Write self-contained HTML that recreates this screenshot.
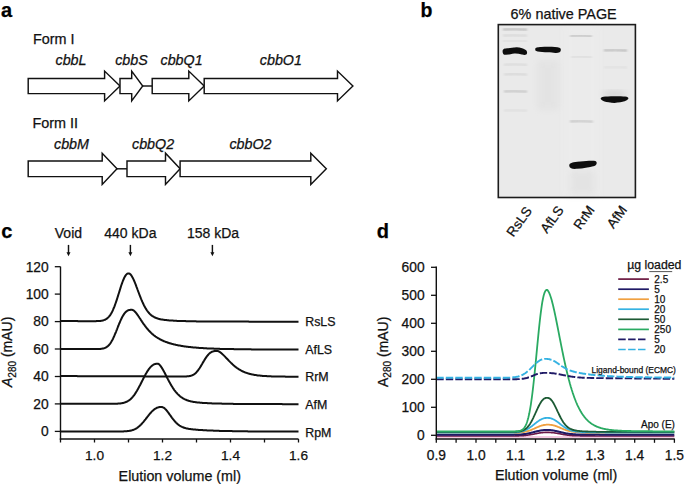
<!DOCTYPE html>
<html><head><meta charset="utf-8"><style>
html,body{margin:0;padding:0;background:#fff;}
svg{display:block;}
text{stroke:#111;stroke-width:0.25px;paint-order:stroke;}
</style></head><body>
<svg width="685" height="484" viewBox="0 0 685 484">
<defs>
<filter id="bl1" x="-20%" y="-50%" width="140%" height="200%"><feGaussianBlur stdDeviation="0.7"/></filter>
<filter id="bl06" x="-20%" y="-50%" width="140%" height="200%"><feGaussianBlur stdDeviation="0.5"/></filter>
<filter id="bl09" x="-20%" y="-100%" width="140%" height="300%"><feGaussianBlur stdDeviation="0.9"/></filter>
<filter id="bl08" x="-20%" y="-50%" width="140%" height="200%"><feGaussianBlur stdDeviation="0.8"/></filter>
<filter id="bl3" x="-20%" y="-20%" width="140%" height="140%"><feGaussianBlur stdDeviation="3"/></filter>
</defs>
<text x="1" y="17.4" font-family="Liberation Sans, sans-serif" font-weight="bold" font-size="20">a</text>
<text x="33" y="44.3" font-family="Liberation Sans, sans-serif" font-size="14.4" fill="#111">Form I</text>
<polygon points="28.2,78.4 104.6,78.4 104.6,71.1 120.0,86.0 104.6,100.9 104.6,93.6 28.2,93.6" fill="#fff" stroke="#111" stroke-width="1.45" stroke-linejoin="miter"/>
<polygon points="120.0,78.4 131.7,78.4 131.7,71.1 142.7,86.0 131.7,100.9 131.7,93.6 120.0,93.6" fill="#fff" stroke="#111" stroke-width="1.45" stroke-linejoin="miter"/>
<line x1="142.7" y1="86.0" x2="152.2" y2="86.0" stroke="#111" stroke-width="1.45"/>
<polygon points="152.2,78.4 188.8,78.4 188.8,71.1 204.2,86.0 188.8,100.9 188.8,93.6 152.2,93.6" fill="#fff" stroke="#111" stroke-width="1.45" stroke-linejoin="miter"/>
<polygon points="204.2,78.4 337.5,78.4 337.5,71.1 352.9,86.0 337.5,100.9 337.5,93.6 204.2,93.6" fill="#fff" stroke="#111" stroke-width="1.45" stroke-linejoin="miter"/>
<text x="55.5" y="64.9" font-family="Liberation Sans, sans-serif" font-style="italic" font-size="14.3" fill="#111">cbbL</text>
<text x="115.2" y="64.9" font-family="Liberation Sans, sans-serif" font-style="italic" font-size="14.3" fill="#111">cbbS</text>
<text x="160.5" y="64.9" font-family="Liberation Sans, sans-serif" font-style="italic" font-size="14.3" fill="#111">cbbQ1</text>
<text x="259.8" y="64.9" font-family="Liberation Sans, sans-serif" font-style="italic" font-size="14.3" fill="#111">cbbO1</text>
<text x="32.4" y="128.2" font-family="Liberation Sans, sans-serif" font-size="14.4" fill="#111">Form II</text>
<polygon points="28.2,161.0 102.2,161.0 102.2,153.2 117.0,168.8 102.2,184.4 102.2,176.6 28.2,176.6" fill="#fff" stroke="#111" stroke-width="1.45" stroke-linejoin="miter"/>
<line x1="117" y1="168.8" x2="127" y2="168.8" stroke="#111" stroke-width="1.45"/>
<polygon points="127.0,161.0 165.5,161.0 165.5,153.2 180.1,168.8 165.5,184.4 165.5,176.6 127.0,176.6" fill="#fff" stroke="#111" stroke-width="1.45" stroke-linejoin="miter"/>
<polygon points="180.1,161.0 310.8,161.0 310.8,153.2 326.3,168.8 310.8,184.4 310.8,176.6 180.1,176.6" fill="#fff" stroke="#111" stroke-width="1.45" stroke-linejoin="miter"/>
<text x="54.0" y="148.8" font-family="Liberation Sans, sans-serif" font-style="italic" font-size="14.3" fill="#111">cbbM</text>
<text x="132.0" y="148.8" font-family="Liberation Sans, sans-serif" font-style="italic" font-size="14.3" fill="#111">cbbQ2</text>
<text x="229.4" y="148.8" font-family="Liberation Sans, sans-serif" font-style="italic" font-size="14.3" fill="#111">cbbO2</text>
<text x="420.6" y="17.3" font-family="Liberation Sans, sans-serif" font-weight="bold" font-size="19.5">b</text>
<text x="510.6" y="18.8" font-family="Liberation Sans, sans-serif" font-size="14.4" fill="#111">6% native PAGE</text>
<g><rect x="498.3" y="24.6" width="137.1" height="172.9" fill="#eaeaea"/><rect x="565" y="26" width="33" height="170" fill="#ececec" opacity="0.9" filter="url(#bl3)"/><rect x="537" y="60" width="22" height="50" fill="#d8d8d8" opacity="0.35" filter="url(#bl3)"/><rect x="570" y="170" width="25" height="25" fill="#d8d8d8" opacity="0.4" filter="url(#bl3)"/><path d="M503,29.4 Q515.0,28.599999999999998 527,29.7" fill="none" stroke="#444" stroke-width="1.0" opacity="0.6" filter="url(#bl09)"/><path d="M503,35.5 Q515.0,34.7 527,35.8" fill="none" stroke="#444" stroke-width="2" opacity="0.12" filter="url(#bl09)"/><path d="M503,41 Q515.0,40.2 527,41.3" fill="none" stroke="#444" stroke-width="2" opacity="0.08" filter="url(#bl09)"/><path d="M504,64.8 Q515.5,64.0 527,65.1" fill="none" stroke="#444" stroke-width="1.8" opacity="0.12" filter="url(#bl09)"/><path d="M504,74.3 Q515.5,73.5 527,74.6" fill="none" stroke="#444" stroke-width="1.8" opacity="0.14" filter="url(#bl09)"/><path d="M504,91.4 Q515.5,90.60000000000001 527,91.7" fill="none" stroke="#444" stroke-width="1.8" opacity="0.28" filter="url(#bl09)"/><path d="M504,110.5 Q515.5,109.7 527,110.8" fill="none" stroke="#444" stroke-width="2" opacity="0.08" filter="url(#bl09)"/><path d="M570,36.0 Q581.0,35.2 592,36.3" fill="none" stroke="#444" stroke-width="1.0" opacity="0.55" filter="url(#bl09)"/><path d="M571,57 Q581.5,56.2 592,57.3" fill="none" stroke="#444" stroke-width="1.6" opacity="0.12" filter="url(#bl09)"/><path d="M570,121.4 Q581.5,120.60000000000001 593,121.7" fill="none" stroke="#444" stroke-width="1.6" opacity="0.3" filter="url(#bl09)"/><path d="M604,50.3 Q615.5,49.5 627,50.599999999999994" fill="none" stroke="#444" stroke-width="1.0" opacity="0.6" filter="url(#bl09)"/><path d="M604,67.2 Q615.5,66.4 627,67.5" fill="none" stroke="#444" stroke-width="1.8" opacity="0.07" filter="url(#bl09)"/><ellipse cx="614.5" cy="94" rx="12" ry="3.5" fill="#777" opacity="0.18" filter="url(#bl3)"/><path d="M502.6,51.2 C502.6,48.6 505,48.4 508,48.2 C511,48 513,47.3 516.5,47.2 C520,47.1 522.5,48.3 524.5,49.2 C526.6,50.2 527.1,51.3 527.1,52.8 C527.1,55.2 524.5,55.4 522,54.6 C519.5,53.8 517,53.3 514.5,53.4 C512,53.5 509,54.7 506,54.8 C503.4,54.9 502.6,53.8 502.6,51.2 Z" fill="#101010" filter="url(#bl06)"/><path d="M535.2,49.3 C535.2,47.4 538,47.4 541,47.1 C545,46.5 551,46.5 555,47 C559,47.4 560.9,47.8 560.9,49.8 C560.9,52.2 559,52.8 556,52.9 C553,53 551,52.2 548,52.2 C544,52.2 540,52 537.5,51.5 C535.7,51.1 535.2,50.6 535.2,49.3 Z" fill="#101010" filter="url(#bl06)"/><path d="M569.2,165.3 C569.2,162.6 573,162.1 580,161.4 C587,160.7 593,160.3 595.4,161 C597.4,161.8 597.2,164.9 594.4,165.9 C589,167.3 583,168.3 577,168.8 C572,169.2 569.2,168.3 569.2,165.3 Z" fill="#101010" filter="url(#bl06)"/><path d="M600.7,98.6 C600.7,96.7 604,96.3 614.5,96.2 C624.5,96.2 628.4,96.4 628.4,98.3 C628.4,100.6 623,102.3 614.5,102.9 C606,102.7 600.7,100.9 600.7,98.6 Z" fill="#101010" filter="url(#bl06)"/></g>
<rect x="498.3" y="24.6" width="137.1" height="172.9" fill="none" stroke="#1c1c1c" stroke-width="1.6"/>
<text x="532.6" y="211" font-family="Liberation Sans, sans-serif" font-size="13.5" fill="#111" text-anchor="end" transform="rotate(-54 532.6 211)">RsLS</text>
<text x="564.3" y="210.3" font-family="Liberation Sans, sans-serif" font-size="13.5" fill="#111" text-anchor="end" transform="rotate(-54 564.3 210.3)">AfLS</text>
<text x="595.2" y="209.8" font-family="Liberation Sans, sans-serif" font-size="13.5" fill="#111" text-anchor="end" transform="rotate(-54 595.2 209.8)">RrM</text>
<text x="627.6" y="209.8" font-family="Liberation Sans, sans-serif" font-size="13.5" fill="#111" text-anchor="end" transform="rotate(-54 627.6 209.8)">AfM</text>
<text x="1.2" y="237.5" font-family="Liberation Sans, sans-serif" font-weight="bold" font-size="20">c</text>
<text x="54.8" y="237.9" font-family="Liberation Sans, sans-serif" font-size="14" fill="#111">Void</text>
<text x="104.3" y="237.9" font-family="Liberation Sans, sans-serif" font-size="14" fill="#111">440 kDa</text>
<text x="187.0" y="237.9" font-family="Liberation Sans, sans-serif" font-size="14" fill="#111">158 kDa</text>
<line x1="68.5" y1="244.9" x2="68.5" y2="253" stroke="#111" stroke-width="1.45"/>
<path d="M66.5,252.2 L70.5,252.2 L68.5,256.2 Z" fill="#111"/>
<line x1="130.4" y1="244.9" x2="130.4" y2="253" stroke="#111" stroke-width="1.45"/>
<path d="M128.4,252.2 L132.4,252.2 L130.4,256.2 Z" fill="#111"/>
<line x1="212.4" y1="244.9" x2="212.4" y2="253" stroke="#111" stroke-width="1.45"/>
<path d="M210.4,252.2 L214.4,252.2 L212.4,256.2 Z" fill="#111"/>
<text x="48.7" y="436.2" font-family="Liberation Sans, sans-serif" font-size="13.8" fill="#111" text-anchor="end">0</text>
<text x="48.7" y="408.8" font-family="Liberation Sans, sans-serif" font-size="13.8" fill="#111" text-anchor="end">20</text>
<text x="48.7" y="381.3" font-family="Liberation Sans, sans-serif" font-size="13.8" fill="#111" text-anchor="end">40</text>
<text x="48.7" y="353.8" font-family="Liberation Sans, sans-serif" font-size="13.8" fill="#111" text-anchor="end">60</text>
<text x="48.7" y="326.4" font-family="Liberation Sans, sans-serif" font-size="13.8" fill="#111" text-anchor="end">80</text>
<text x="48.7" y="298.9" font-family="Liberation Sans, sans-serif" font-size="13.8" fill="#111" text-anchor="end">100</text>
<text x="48.7" y="271.5" font-family="Liberation Sans, sans-serif" font-size="13.8" fill="#111" text-anchor="end">120</text>
<text x="94.5" y="459.9" font-family="Liberation Sans, sans-serif" font-size="13.7" fill="#111" text-anchor="middle">1.0</text>
<text x="162.5" y="459.9" font-family="Liberation Sans, sans-serif" font-size="13.7" fill="#111" text-anchor="middle">1.2</text>
<text x="230.5" y="459.9" font-family="Liberation Sans, sans-serif" font-size="13.7" fill="#111" text-anchor="middle">1.4</text>
<text x="298.5" y="459.9" font-family="Liberation Sans, sans-serif" font-size="13.7" fill="#111" text-anchor="middle">1.6</text>
<line x1="60.5" y1="266.6" x2="60.5" y2="439.6" stroke="#111" stroke-width="1.4"/><line x1="59.8" y1="439" x2="298.5" y2="439" stroke="#111" stroke-width="1.4"/><line x1="54.8" y1="431.4" x2="60.5" y2="431.4" stroke="#111" stroke-width="1.3"/><line x1="54.8" y1="403.9" x2="60.5" y2="403.9" stroke="#111" stroke-width="1.3"/><line x1="54.8" y1="376.5" x2="60.5" y2="376.5" stroke="#111" stroke-width="1.3"/><line x1="54.8" y1="349.0" x2="60.5" y2="349.0" stroke="#111" stroke-width="1.3"/><line x1="54.8" y1="321.6" x2="60.5" y2="321.6" stroke="#111" stroke-width="1.3"/><line x1="54.8" y1="294.1" x2="60.5" y2="294.1" stroke="#111" stroke-width="1.3"/><line x1="54.8" y1="266.7" x2="60.5" y2="266.7" stroke="#111" stroke-width="1.3"/><line x1="60.5" y1="439" x2="60.5" y2="442.5" stroke="#111" stroke-width="1.3"/><line x1="94.5" y1="439" x2="94.5" y2="442.5" stroke="#111" stroke-width="1.3"/><line x1="128.5" y1="439" x2="128.5" y2="442.5" stroke="#111" stroke-width="1.3"/><line x1="162.5" y1="439" x2="162.5" y2="442.5" stroke="#111" stroke-width="1.3"/><line x1="196.5" y1="439" x2="196.5" y2="442.5" stroke="#111" stroke-width="1.3"/><line x1="230.5" y1="439" x2="230.5" y2="442.5" stroke="#111" stroke-width="1.3"/><line x1="264.5" y1="439" x2="264.5" y2="442.5" stroke="#111" stroke-width="1.3"/><line x1="298.5" y1="439" x2="298.5" y2="442.5" stroke="#111" stroke-width="1.3"/>
<text x="118.6" y="480.7" font-family="Liberation Sans, sans-serif" font-size="14.3" fill="#111">Elution volume (ml)</text>
<text transform="translate(12.4,387) rotate(-90)" font-family="Liberation Sans, sans-serif" font-size="14" fill="#111"><tspan font-style="italic">A</tspan><tspan font-size="10" dy="3.5">280</tspan><tspan dy="-3.5"> (mAU)</tspan></text>
<polyline points="60.5,321.1 61.0,321.1 61.5,321.1 62.0,321.1 62.5,321.1 63.0,321.1 63.5,321.1 64.0,321.1 64.5,321.1 65.0,321.1 65.5,321.1 66.0,321.1 66.5,321.1 67.0,321.1 67.5,321.1 68.0,321.1 68.5,321.1 69.0,321.1 69.5,321.1 70.0,321.1 70.5,321.1 71.0,321.1 71.5,321.1 72.0,321.1 72.5,321.1 73.0,321.1 73.5,321.1 74.0,321.1 74.5,321.1 75.0,321.1 75.5,321.1 76.0,321.1 76.5,321.1 77.0,321.1 77.5,321.1 78.0,321.2 78.5,321.2 79.0,321.2 79.5,321.2 80.0,321.2 80.5,321.2 81.0,321.2 81.5,321.2 82.0,321.2 82.5,321.2 83.0,321.2 83.5,321.2 84.0,321.2 84.5,321.2 85.0,321.2 85.5,321.2 86.0,321.2 86.5,321.2 87.0,321.2 87.5,321.2 88.0,321.2 88.5,321.2 89.0,321.2 89.5,321.2 90.0,321.2 90.5,321.2 91.0,321.2 91.5,321.2 92.0,321.2 92.5,321.2 93.0,321.2 93.5,321.2 94.0,321.2 94.5,321.2 95.0,321.2 95.5,321.2 96.0,321.2 96.5,321.1 97.0,321.1 97.5,321.1 98.0,321.1 98.5,321.1 99.0,321.0 99.5,321.0 100.0,320.9 100.5,320.9 101.0,320.8 101.5,320.8 102.0,320.7 102.5,320.6 103.0,320.4 103.5,320.3 104.0,320.1 104.5,319.9 105.0,319.7 105.5,319.5 106.0,319.2 106.5,318.9 107.0,318.5 107.5,318.1 108.0,317.6 108.5,317.1 109.0,316.6 109.5,316.0 110.0,315.3 110.5,314.6 111.0,313.8 111.5,312.9 112.0,312.0 112.5,311.0 113.0,309.9 113.5,308.7 114.0,307.5 114.5,306.3 115.0,304.9 115.5,303.5 116.0,302.1 116.5,300.6 117.0,299.1 117.5,297.5 118.0,295.9 118.5,294.3 119.0,292.7 119.5,291.1 120.0,289.5 120.5,287.9 121.0,286.3 121.5,284.8 122.0,283.4 122.5,282.0 123.0,280.7 123.5,279.5 124.0,278.3 124.5,277.3 125.0,276.4 125.5,275.6 126.0,274.9 126.5,274.4 127.0,273.9 127.5,273.6 128.0,273.4 128.5,273.4 129.0,273.4 129.5,273.6 130.0,274.0 130.5,274.4 131.0,275.0 131.5,275.7 132.0,276.5 132.5,277.4 133.0,278.3 133.5,279.4 134.0,280.5 134.5,281.7 135.0,282.9 135.5,284.1 136.0,285.4 136.5,286.8 137.0,288.1 137.5,289.5 138.0,290.8 138.5,292.2 139.0,293.5 139.5,294.8 140.0,296.1 140.5,297.4 141.0,298.7 141.5,299.9 142.0,301.0 142.5,302.2 143.0,303.3 143.5,304.3 144.0,305.4 144.5,306.3 145.0,307.2 145.5,308.1 146.0,308.9 146.5,309.7 147.0,310.5 147.5,311.2 148.0,311.8 148.5,312.4 149.0,313.0 149.5,313.6 150.0,314.1 150.5,314.5 151.0,315.0 151.5,315.4 152.0,315.8 152.5,316.1 153.0,316.4 153.5,316.7 154.0,317.0 154.5,317.3 155.0,317.5 155.5,317.7 156.0,318.0 156.5,318.1 157.0,318.3 157.5,318.5 158.0,318.6 158.5,318.8 159.0,318.9 159.5,319.0 160.0,319.2 160.5,319.3 161.0,319.4 161.5,319.5 162.0,319.5 162.5,319.6 163.0,319.7 163.5,319.8 164.0,319.8 164.5,319.9 165.0,320.0 165.5,320.0 166.0,320.1 166.5,320.1 167.0,320.2 167.5,320.2 168.0,320.3 168.5,320.3 169.0,320.4 169.5,320.4 170.0,320.4 170.5,320.5 171.0,320.5 171.5,320.5 172.0,320.6 172.5,320.6 173.0,320.6 173.5,320.7 174.0,320.7 174.5,320.7 175.0,320.8 175.5,320.8 176.0,320.8 176.5,320.8 177.0,320.9 177.5,320.9 178.0,320.9 178.5,320.9 179.0,320.9 179.5,321.0 180.0,321.0 180.5,321.0 181.0,321.0 181.5,321.0 182.0,321.0 182.5,321.1 183.0,321.1 183.5,321.1 184.0,321.1 184.5,321.1 185.0,321.1 185.5,321.1 186.0,321.2 186.5,321.2 187.0,321.2 187.5,321.2 188.0,321.2 188.5,321.2 189.0,321.2 189.5,321.2 190.0,321.2 190.5,321.3 191.0,321.3 191.5,321.3 192.0,321.3 192.5,321.3 193.0,321.3 193.5,321.3 194.0,321.3 194.5,321.3 195.0,321.3 195.5,321.3 196.0,321.3 196.5,321.4 197.0,321.4 197.5,321.4 198.0,321.4 198.5,321.4 199.0,321.4 199.5,321.4 200.0,321.4 200.5,321.4 201.0,321.4 201.5,321.4 202.0,321.4 202.5,321.4 203.0,321.4 203.5,321.4 204.0,321.4 204.5,321.4 205.0,321.4 205.5,321.4 206.0,321.5 206.5,321.5 207.0,321.5 207.5,321.5 208.0,321.5 208.5,321.5 209.0,321.5 209.5,321.5 210.0,321.5 210.5,321.5 211.0,321.5 211.5,321.5 212.0,321.5 212.5,321.5 213.0,321.5 213.5,321.5 214.0,321.5 214.5,321.5 215.0,321.5 215.5,321.5 216.0,321.5 216.5,321.5 217.0,321.5 217.5,321.5 218.0,321.5 218.5,321.5 219.0,321.5 219.5,321.5 220.0,321.5 220.5,321.5 221.0,321.5 221.5,321.5 222.0,321.6 222.5,321.6 223.0,321.6 223.5,321.6 224.0,321.6 224.5,321.6 225.0,321.6 225.5,321.6 226.0,321.6 226.5,321.6 227.0,321.6 227.5,321.6 228.0,321.6 228.5,321.6 229.0,321.6 229.5,321.6 230.0,321.6 230.5,321.6 231.0,321.6 231.5,321.6 232.0,321.6 232.5,321.6 233.0,321.6 233.5,321.6 234.0,321.6 234.5,321.6 235.0,321.6 235.5,321.6 236.0,321.6 236.5,321.6 237.0,321.6 237.5,321.6 238.0,321.6 238.5,321.6 239.0,321.6 239.5,321.6 240.0,321.6 240.5,321.6 241.0,321.6 241.5,321.6 242.0,321.6 242.5,321.6 243.0,321.6 243.5,321.6 244.0,321.6 244.5,321.6 245.0,321.6 245.5,321.6 246.0,321.6 246.5,321.6 247.0,321.6 247.5,321.6 248.0,321.6 248.5,321.6 249.0,321.7 249.5,321.7 250.0,321.7 250.5,321.7 251.0,321.7 251.5,321.7 252.0,321.7 252.5,321.7 253.0,321.7 253.5,321.7 254.0,321.7 254.5,321.7 255.0,321.7 255.5,321.7 256.0,321.7 256.5,321.7 257.0,321.7 257.5,321.7 258.0,321.7 258.5,321.7 259.0,321.7 259.5,321.7 260.0,321.7 260.5,321.7 261.0,321.7 261.5,321.7 262.0,321.7 262.5,321.7 263.0,321.7 263.5,321.7 264.0,321.7 264.5,321.7 265.0,321.7 265.5,321.7 266.0,321.7 266.5,321.7 267.0,321.7 267.5,321.7 268.0,321.7 268.5,321.7 269.0,321.7 269.5,321.7 270.0,321.7 270.5,321.7 271.0,321.7 271.5,321.7 272.0,321.7 272.5,321.7 273.0,321.7 273.5,321.7 274.0,321.7 274.5,321.7 275.0,321.7 275.5,321.7 276.0,321.7 276.5,321.7 277.0,321.7 277.5,321.7 278.0,321.7 278.5,321.7 279.0,321.7 279.5,321.7 280.0,321.7 280.5,321.7 281.0,321.7 281.5,321.7 282.0,321.8 282.5,321.8 283.0,321.8 283.5,321.8 284.0,321.8 284.5,321.8 285.0,321.8 285.5,321.8 286.0,321.8 286.5,321.8 287.0,321.8 287.5,321.8 288.0,321.8 288.5,321.8 289.0,321.8 289.5,321.8 290.0,321.8 290.5,321.8 291.0,321.8 291.5,321.8 292.0,321.8 292.5,321.8 293.0,321.8 293.5,321.8 294.0,321.8 294.5,321.8 295.0,321.8 295.5,321.8 296.0,321.8 296.5,321.8 297.0,321.8 297.5,321.8 298.0,321.8 298.5,321.8" fill="none" stroke="#111" stroke-width="2.0" stroke-linejoin="round"/>
<text x="305.2" y="326.0" font-family="Liberation Sans, sans-serif" font-size="12.4" fill="#111">RsLS</text>
<polyline points="60.5,348.9 61.0,348.9 61.5,348.9 62.0,348.9 62.5,348.9 63.0,348.9 63.5,348.9 64.0,348.9 64.5,348.9 65.0,348.9 65.5,348.9 66.0,348.9 66.5,348.9 67.0,348.9 67.5,348.9 68.0,348.9 68.5,348.9 69.0,348.9 69.5,348.9 70.0,348.9 70.5,348.9 71.0,348.9 71.5,348.9 72.0,348.9 72.5,348.9 73.0,348.9 73.5,348.9 74.0,348.9 74.5,348.9 75.0,348.9 75.5,348.9 76.0,348.9 76.5,348.9 77.0,348.9 77.5,348.9 78.0,349.0 78.5,349.0 79.0,349.0 79.5,349.0 80.0,349.0 80.5,349.0 81.0,349.0 81.5,349.0 82.0,349.0 82.5,349.0 83.0,349.0 83.5,349.0 84.0,349.0 84.5,349.0 85.0,349.0 85.5,349.0 86.0,349.0 86.5,349.0 87.0,349.0 87.5,349.0 88.0,349.0 88.5,349.0 89.0,349.0 89.5,349.0 90.0,349.0 90.5,349.0 91.0,349.0 91.5,349.0 92.0,349.0 92.5,349.0 93.0,349.0 93.5,349.0 94.0,349.0 94.5,349.0 95.0,349.0 95.5,349.0 96.0,349.0 96.5,349.0 97.0,349.0 97.5,349.0 98.0,349.0 98.5,349.0 99.0,348.9 99.5,348.9 100.0,348.9 100.5,348.9 101.0,348.8 101.5,348.8 102.0,348.7 102.5,348.6 103.0,348.5 103.5,348.4 104.0,348.3 104.5,348.1 105.0,347.9 105.5,347.7 106.0,347.4 106.5,347.2 107.0,346.8 107.5,346.4 108.0,346.0 108.5,345.5 109.0,345.0 109.5,344.4 110.0,343.8 110.5,343.1 111.0,342.3 111.5,341.5 112.0,340.6 112.5,339.7 113.0,338.7 113.5,337.6 114.0,336.5 114.5,335.4 115.0,334.2 115.5,333.0 116.0,331.8 116.5,330.5 117.0,329.3 117.5,328.0 118.0,326.7 118.5,325.5 119.0,324.2 119.5,323.0 120.0,321.8 120.5,320.7 121.0,319.6 121.5,318.5 122.0,317.5 122.5,316.6 123.0,315.7 123.5,314.9 124.0,314.1 124.5,313.4 125.0,312.8 125.5,312.3 126.0,311.8 126.5,311.4 127.0,311.0 127.5,310.7 128.0,310.4 128.5,310.2 129.0,310.1 129.5,310.0 130.0,309.9 130.5,309.8 131.0,309.8 131.5,309.8 132.0,309.8 132.5,309.9 133.0,310.1 133.5,310.4 134.0,310.8 134.5,311.2 135.0,311.7 135.5,312.2 136.0,312.8 136.5,313.5 137.0,314.1 137.5,314.8 138.0,315.5 138.5,316.3 139.0,317.0 139.5,317.8 140.0,318.5 140.5,319.3 141.0,320.1 141.5,320.8 142.0,321.6 142.5,322.3 143.0,323.1 143.5,323.8 144.0,324.5 144.5,325.2 145.0,325.9 145.5,326.5 146.0,327.2 146.5,327.8 147.0,328.4 147.5,329.0 148.0,329.6 148.5,330.2 149.0,330.7 149.5,331.3 150.0,331.8 150.5,332.3 151.0,332.8 151.5,333.2 152.0,333.7 152.5,334.1 153.0,334.5 153.5,335.0 154.0,335.4 154.5,335.7 155.0,336.1 155.5,336.5 156.0,336.8 156.5,337.2 157.0,337.5 157.5,337.8 158.0,338.1 158.5,338.4 159.0,338.7 159.5,339.0 160.0,339.3 160.5,339.5 161.0,339.8 161.5,340.0 162.0,340.3 162.5,340.5 163.0,340.7 163.5,341.0 164.0,341.2 164.5,341.4 165.0,341.6 165.5,341.8 166.0,342.0 166.5,342.1 167.0,342.3 167.5,342.5 168.0,342.7 168.5,342.8 169.0,343.0 169.5,343.2 170.0,343.3 170.5,343.5 171.0,343.6 171.5,343.7 172.0,343.9 172.5,344.0 173.0,344.1 173.5,344.3 174.0,344.4 174.5,344.5 175.0,344.6 175.5,344.7 176.0,344.9 176.5,345.0 177.0,345.1 177.5,345.2 178.0,345.3 178.5,345.4 179.0,345.5 179.5,345.6 180.0,345.6 180.5,345.7 181.0,345.8 181.5,345.9 182.0,346.0 182.5,346.1 183.0,346.2 183.5,346.2 184.0,346.3 184.5,346.4 185.0,346.4 185.5,346.5 186.0,346.6 186.5,346.7 187.0,346.7 187.5,346.8 188.0,346.8 188.5,346.9 189.0,347.0 189.5,347.0 190.0,347.1 190.5,347.1 191.0,347.2 191.5,347.2 192.0,347.3 192.5,347.3 193.0,347.4 193.5,347.4 194.0,347.5 194.5,347.5 195.0,347.6 195.5,347.6 196.0,347.6 196.5,347.7 197.0,347.7 197.5,347.8 198.0,347.8 198.5,347.8 199.0,347.9 199.5,347.9 200.0,348.0 200.5,348.0 201.0,348.0 201.5,348.1 202.0,348.1 202.5,348.1 203.0,348.1 203.5,348.2 204.0,348.2 204.5,348.2 205.0,348.3 205.5,348.3 206.0,348.3 206.5,348.3 207.0,348.4 207.5,348.4 208.0,348.4 208.5,348.4 209.0,348.5 209.5,348.5 210.0,348.5 210.5,348.5 211.0,348.5 211.5,348.6 212.0,348.6 212.5,348.6 213.0,348.6 213.5,348.6 214.0,348.7 214.5,348.7 215.0,348.7 215.5,348.7 216.0,348.7 216.5,348.8 217.0,348.8 217.5,348.8 218.0,348.8 218.5,348.8 219.0,348.8 219.5,348.8 220.0,348.9 220.5,348.9 221.0,348.9 221.5,348.9 222.0,348.9 222.5,348.9 223.0,348.9 223.5,348.9 224.0,349.0 224.5,349.0 225.0,349.0 225.5,349.0 226.0,349.0 226.5,349.0 227.0,349.0 227.5,349.0 228.0,349.0 228.5,349.1 229.0,349.1 229.5,349.1 230.0,349.1 230.5,349.1 231.0,349.1 231.5,349.1 232.0,349.1 232.5,349.1 233.0,349.1 233.5,349.1 234.0,349.2 234.5,349.2 235.0,349.2 235.5,349.2 236.0,349.2 236.5,349.2 237.0,349.2 237.5,349.2 238.0,349.2 238.5,349.2 239.0,349.2 239.5,349.2 240.0,349.2 240.5,349.2 241.0,349.2 241.5,349.3 242.0,349.3 242.5,349.3 243.0,349.3 243.5,349.3 244.0,349.3 244.5,349.3 245.0,349.3 245.5,349.3 246.0,349.3 246.5,349.3 247.0,349.3 247.5,349.3 248.0,349.3 248.5,349.3 249.0,349.3 249.5,349.3 250.0,349.3 250.5,349.3 251.0,349.3 251.5,349.4 252.0,349.4 252.5,349.4 253.0,349.4 253.5,349.4 254.0,349.4 254.5,349.4 255.0,349.4 255.5,349.4 256.0,349.4 256.5,349.4 257.0,349.4 257.5,349.4 258.0,349.4 258.5,349.4 259.0,349.4 259.5,349.4 260.0,349.4 260.5,349.4 261.0,349.4 261.5,349.4 262.0,349.4 262.5,349.4 263.0,349.4 263.5,349.4 264.0,349.4 264.5,349.4 265.0,349.4 265.5,349.4 266.0,349.4 266.5,349.5 267.0,349.5 267.5,349.5 268.0,349.5 268.5,349.5 269.0,349.5 269.5,349.5 270.0,349.5 270.5,349.5 271.0,349.5 271.5,349.5 272.0,349.5 272.5,349.5 273.0,349.5 273.5,349.5 274.0,349.5 274.5,349.5 275.0,349.5 275.5,349.5 276.0,349.5 276.5,349.5 277.0,349.5 277.5,349.5 278.0,349.5 278.5,349.5 279.0,349.5 279.5,349.5 280.0,349.5 280.5,349.5 281.0,349.5 281.5,349.5 282.0,349.5 282.5,349.5 283.0,349.5 283.5,349.5 284.0,349.5 284.5,349.5 285.0,349.5 285.5,349.5 286.0,349.5 286.5,349.5 287.0,349.5 287.5,349.5 288.0,349.6 288.5,349.6 289.0,349.6 289.5,349.6 290.0,349.6 290.5,349.6 291.0,349.6 291.5,349.6 292.0,349.6 292.5,349.6 293.0,349.6 293.5,349.6 294.0,349.6 294.5,349.6 295.0,349.6 295.5,349.6 296.0,349.6 296.5,349.6 297.0,349.6 297.5,349.6 298.0,349.6 298.5,349.6" fill="none" stroke="#111" stroke-width="2.0" stroke-linejoin="round"/>
<text x="305.2" y="354.0" font-family="Liberation Sans, sans-serif" font-size="12.4" fill="#111">AfLS</text>
<polyline points="60.5,376.1 61.0,376.1 61.5,376.1 62.0,376.1 62.5,376.1 63.0,376.1 63.5,376.1 64.0,376.1 64.5,376.1 65.0,376.1 65.5,376.1 66.0,376.1 66.5,376.1 67.0,376.1 67.5,376.1 68.0,376.1 68.5,376.1 69.0,376.1 69.5,376.1 70.0,376.1 70.5,376.1 71.0,376.1 71.5,376.1 72.0,376.1 72.5,376.1 73.0,376.1 73.5,376.1 74.0,376.1 74.5,376.1 75.0,376.1 75.5,376.1 76.0,376.1 76.5,376.1 77.0,376.1 77.5,376.2 78.0,376.2 78.5,376.2 79.0,376.2 79.5,376.2 80.0,376.2 80.5,376.2 81.0,376.2 81.5,376.2 82.0,376.2 82.5,376.2 83.0,376.2 83.5,376.2 84.0,376.2 84.5,376.2 85.0,376.2 85.5,376.2 86.0,376.2 86.5,376.2 87.0,376.2 87.5,376.2 88.0,376.2 88.5,376.2 89.0,376.2 89.5,376.2 90.0,376.2 90.5,376.2 91.0,376.2 91.5,376.2 92.0,376.2 92.5,376.2 93.0,376.2 93.5,376.2 94.0,376.2 94.5,376.2 95.0,376.2 95.5,376.2 96.0,376.2 96.5,376.2 97.0,376.2 97.5,376.2 98.0,376.2 98.5,376.2 99.0,376.2 99.5,376.2 100.0,376.2 100.5,376.2 101.0,376.2 101.5,376.2 102.0,376.2 102.5,376.2 103.0,376.2 103.5,376.2 104.0,376.2 104.5,376.2 105.0,376.2 105.5,376.2 106.0,376.2 106.5,376.2 107.0,376.2 107.5,376.2 108.0,376.2 108.5,376.2 109.0,376.2 109.5,376.2 110.0,376.2 110.5,376.2 111.0,376.2 111.5,376.2 112.0,376.3 112.5,376.3 113.0,376.3 113.5,376.3 114.0,376.3 114.5,376.3 115.0,376.3 115.5,376.3 116.0,376.3 116.5,376.3 117.0,376.3 117.5,376.3 118.0,376.3 118.5,376.3 119.0,376.3 119.5,376.3 120.0,376.3 120.5,376.3 121.0,376.3 121.5,376.3 122.0,376.3 122.5,376.3 123.0,376.3 123.5,376.3 124.0,376.3 124.5,376.3 125.0,376.3 125.5,376.3 126.0,376.3 126.5,376.3 127.0,376.3 127.5,376.3 128.0,376.3 128.5,376.3 129.0,376.3 129.5,376.3 130.0,376.3 130.5,376.3 131.0,376.3 131.5,376.3 132.0,376.3 132.5,376.3 133.0,376.3 133.5,376.3 134.0,376.3 134.5,376.3 135.0,376.3 135.5,376.3 136.0,376.3 136.5,376.3 137.0,376.3 137.5,376.3 138.0,376.3 138.5,376.3 139.0,376.3 139.5,376.3 140.0,376.3 140.5,376.3 141.0,376.3 141.5,376.3 142.0,376.3 142.5,376.3 143.0,376.3 143.5,376.3 144.0,376.3 144.5,376.3 145.0,376.3 145.5,376.4 146.0,376.4 146.5,376.4 147.0,376.4 147.5,376.4 148.0,376.4 148.5,376.4 149.0,376.4 149.5,376.4 150.0,376.4 150.5,376.4 151.0,376.4 151.5,376.4 152.0,376.4 152.5,376.4 153.0,376.4 153.5,376.4 154.0,376.4 154.5,376.4 155.0,376.4 155.5,376.4 156.0,376.4 156.5,376.4 157.0,376.4 157.5,376.4 158.0,376.4 158.5,376.4 159.0,376.4 159.5,376.4 160.0,376.4 160.5,376.4 161.0,376.4 161.5,376.4 162.0,376.4 162.5,376.4 163.0,376.4 163.5,376.4 164.0,376.4 164.5,376.4 165.0,376.4 165.5,376.4 166.0,376.4 166.5,376.4 167.0,376.4 167.5,376.4 168.0,376.4 168.5,376.4 169.0,376.4 169.5,376.4 170.0,376.4 170.5,376.4 171.0,376.4 171.5,376.4 172.0,376.4 172.5,376.4 173.0,376.4 173.5,376.4 174.0,376.4 174.5,376.4 175.0,376.4 175.5,376.4 176.0,376.4 176.5,376.4 177.0,376.4 177.5,376.4 178.0,376.4 178.5,376.4 179.0,376.4 179.5,376.4 180.0,376.5 180.5,376.5 181.0,376.5 181.5,376.5 182.0,376.5 182.5,376.5 183.0,376.4 183.5,376.4 184.0,376.4 184.5,376.4 185.0,376.4 185.5,376.4 186.0,376.4 186.5,376.4 187.0,376.3 187.5,376.3 188.0,376.3 188.5,376.2 189.0,376.2 189.5,376.1 190.0,376.0 190.5,375.9 191.0,375.7 191.5,375.6 192.0,375.4 192.5,375.2 193.0,374.9 193.5,374.7 194.0,374.4 194.5,374.0 195.0,373.6 195.5,373.2 196.0,372.7 196.5,372.2 197.0,371.6 197.5,371.0 198.0,370.4 198.5,369.7 199.0,369.0 199.5,368.3 200.0,367.5 200.5,366.7 201.0,365.9 201.5,365.0 202.0,364.2 202.5,363.3 203.0,362.4 203.5,361.6 204.0,360.8 204.5,359.9 205.0,359.1 205.5,358.3 206.0,357.6 206.5,356.9 207.0,356.2 207.5,355.6 208.0,355.0 208.5,354.4 209.0,353.9 209.5,353.4 210.0,353.0 210.5,352.6 211.0,352.3 211.5,352.0 212.0,351.8 212.5,351.6 213.0,351.4 213.5,351.3 214.0,351.2 214.5,351.1 215.0,351.0 215.5,351.0 216.0,351.0 216.5,351.0 217.0,351.0 217.5,351.0 218.0,351.1 218.5,351.3 219.0,351.5 219.5,351.8 220.0,352.1 220.5,352.5 221.0,352.9 221.5,353.3 222.0,353.7 222.5,354.2 223.0,354.6 223.5,355.1 224.0,355.6 224.5,356.1 225.0,356.6 225.5,357.2 226.0,357.7 226.5,358.2 227.0,358.8 227.5,359.3 228.0,359.8 228.5,360.3 229.0,360.9 229.5,361.4 230.0,361.9 230.5,362.4 231.0,362.9 231.5,363.4 232.0,363.8 232.5,364.3 233.0,364.7 233.5,365.2 234.0,365.6 234.5,366.0 235.0,366.5 235.5,366.9 236.0,367.2 236.5,367.6 237.0,368.0 237.5,368.3 238.0,368.7 238.5,369.0 239.0,369.3 239.5,369.6 240.0,369.9 240.5,370.2 241.0,370.5 241.5,370.8 242.0,371.0 242.5,371.3 243.0,371.5 243.5,371.7 244.0,371.9 244.5,372.2 245.0,372.4 245.5,372.6 246.0,372.7 246.5,372.9 247.0,373.1 247.5,373.2 248.0,373.4 248.5,373.6 249.0,373.7 249.5,373.8 250.0,374.0 250.5,374.1 251.0,374.2 251.5,374.3 252.0,374.4 252.5,374.5 253.0,374.6 253.5,374.7 254.0,374.8 254.5,374.9 255.0,375.0 255.5,375.1 256.0,375.1 256.5,375.2 257.0,375.3 257.5,375.4 258.0,375.4 258.5,375.5 259.0,375.5 259.5,375.6 260.0,375.6 260.5,375.7 261.0,375.7 261.5,375.8 262.0,375.8 262.5,375.9 263.0,375.9 263.5,375.9 264.0,376.0 264.5,376.0 265.0,376.0 265.5,376.1 266.0,376.1 266.5,376.1 267.0,376.2 267.5,376.2 268.0,376.2 268.5,376.2 269.0,376.3 269.5,376.3 270.0,376.3 270.5,376.3 271.0,376.3 271.5,376.4 272.0,376.4 272.5,376.4 273.0,376.4 273.5,376.4 274.0,376.4 274.5,376.4 275.0,376.5 275.5,376.5 276.0,376.5 276.5,376.5 277.0,376.5 277.5,376.5 278.0,376.5 278.5,376.5 279.0,376.6 279.5,376.6 280.0,376.6 280.5,376.6 281.0,376.6 281.5,376.6 282.0,376.6 282.5,376.6 283.0,376.6 283.5,376.6 284.0,376.6 284.5,376.6 285.0,376.6 285.5,376.7 286.0,376.7 286.5,376.7 287.0,376.7 287.5,376.7 288.0,376.7 288.5,376.7 289.0,376.7 289.5,376.7 290.0,376.7 290.5,376.7 291.0,376.7 291.5,376.7 292.0,376.7 292.5,376.7 293.0,376.7 293.5,376.7 294.0,376.7 294.5,376.7 295.0,376.7 295.5,376.7 296.0,376.7 296.5,376.7 297.0,376.8 297.5,376.8 298.0,376.8 298.5,376.8" fill="none" stroke="#111" stroke-width="2.0" stroke-linejoin="round"/>
<text x="305.2" y="381.4" font-family="Liberation Sans, sans-serif" font-size="12.4" fill="#111">RrM</text>
<polyline points="60.5,403.7 61.0,403.7 61.5,403.7 62.0,403.7 62.5,403.7 63.0,403.7 63.5,403.7 64.0,403.7 64.5,403.7 65.0,403.7 65.5,403.7 66.0,403.7 66.5,403.7 67.0,403.7 67.5,403.7 68.0,403.7 68.5,403.7 69.0,403.7 69.5,403.7 70.0,403.7 70.5,403.7 71.0,403.7 71.5,403.7 72.0,403.7 72.5,403.7 73.0,403.7 73.5,403.7 74.0,403.7 74.5,403.7 75.0,403.7 75.5,403.7 76.0,403.7 76.5,403.7 77.0,403.7 77.5,403.7 78.0,403.7 78.5,403.7 79.0,403.7 79.5,403.7 80.0,403.7 80.5,403.7 81.0,403.7 81.5,403.7 82.0,403.7 82.5,403.7 83.0,403.7 83.5,403.7 84.0,403.7 84.5,403.8 85.0,403.8 85.5,403.8 86.0,403.8 86.5,403.8 87.0,403.8 87.5,403.8 88.0,403.8 88.5,403.8 89.0,403.8 89.5,403.8 90.0,403.8 90.5,403.8 91.0,403.8 91.5,403.8 92.0,403.8 92.5,403.8 93.0,403.8 93.5,403.8 94.0,403.8 94.5,403.8 95.0,403.8 95.5,403.8 96.0,403.8 96.5,403.8 97.0,403.8 97.5,403.8 98.0,403.8 98.5,403.8 99.0,403.8 99.5,403.8 100.0,403.8 100.5,403.8 101.0,403.8 101.5,403.8 102.0,403.8 102.5,403.8 103.0,403.8 103.5,403.8 104.0,403.8 104.5,403.8 105.0,403.8 105.5,403.8 106.0,403.8 106.5,403.8 107.0,403.8 107.5,403.8 108.0,403.8 108.5,403.8 109.0,403.8 109.5,403.8 110.0,403.8 110.5,403.8 111.0,403.8 111.5,403.8 112.0,403.8 112.5,403.8 113.0,403.8 113.5,403.8 114.0,403.8 114.5,403.8 115.0,403.7 115.5,403.7 116.0,403.7 116.5,403.7 117.0,403.7 117.5,403.7 118.0,403.6 118.5,403.6 119.0,403.6 119.5,403.5 120.0,403.5 120.5,403.4 121.0,403.3 121.5,403.3 122.0,403.2 122.5,403.1 123.0,403.0 123.5,402.9 124.0,402.7 124.5,402.6 125.0,402.4 125.5,402.2 126.0,402.0 126.5,401.8 127.0,401.6 127.5,401.3 128.0,401.0 128.5,400.7 129.0,400.4 129.5,400.0 130.0,399.6 130.5,399.2 131.0,398.7 131.5,398.2 132.0,397.7 132.5,397.1 133.0,396.6 133.5,395.9 134.0,395.3 134.5,394.6 135.0,393.9 135.5,393.1 136.0,392.3 136.5,391.5 137.0,390.7 137.5,389.8 138.0,388.9 138.5,388.0 139.0,387.1 139.5,386.1 140.0,385.2 140.5,384.2 141.0,383.2 141.5,382.2 142.0,381.2 142.5,380.3 143.0,379.3 143.5,378.3 144.0,377.3 144.5,376.4 145.0,375.4 145.5,374.5 146.0,373.6 146.5,372.8 147.0,371.9 147.5,371.1 148.0,370.4 148.5,369.6 149.0,368.9 149.5,368.3 150.0,367.7 150.5,367.1 151.0,366.6 151.5,366.1 152.0,365.7 152.5,365.3 153.0,365.0 153.5,364.7 154.0,364.4 154.5,364.2 155.0,364.1 155.5,363.9 156.0,363.8 156.5,363.8 157.0,363.7 157.5,363.7 158.0,363.7 158.5,363.9 159.0,364.3 159.5,364.7 160.0,365.3 160.5,365.9 161.0,366.6 161.5,367.3 162.0,368.1 162.5,368.9 163.0,369.8 163.5,370.7 164.0,371.6 164.5,372.6 165.0,373.5 165.5,374.5 166.0,375.5 166.5,376.5 167.0,377.5 167.5,378.4 168.0,379.4 168.5,380.3 169.0,381.3 169.5,382.2 170.0,383.1 170.5,384.0 171.0,384.9 171.5,385.7 172.0,386.5 172.5,387.3 173.0,388.1 173.5,388.8 174.0,389.6 174.5,390.3 175.0,390.9 175.5,391.6 176.0,392.2 176.5,392.8 177.0,393.3 177.5,393.9 178.0,394.4 178.5,394.9 179.0,395.3 179.5,395.8 180.0,396.2 180.5,396.6 181.0,397.0 181.5,397.3 182.0,397.7 182.5,398.0 183.0,398.3 183.5,398.6 184.0,398.9 184.5,399.1 185.0,399.4 185.5,399.6 186.0,399.8 186.5,400.0 187.0,400.2 187.5,400.4 188.0,400.5 188.5,400.7 189.0,400.9 189.5,401.0 190.0,401.1 190.5,401.3 191.0,401.4 191.5,401.5 192.0,401.6 192.5,401.7 193.0,401.8 193.5,401.9 194.0,402.0 194.5,402.0 195.0,402.1 195.5,402.2 196.0,402.2 196.5,402.3 197.0,402.4 197.5,402.4 198.0,402.5 198.5,402.5 199.0,402.6 199.5,402.6 200.0,402.7 200.5,402.7 201.0,402.8 201.5,402.8 202.0,402.8 202.5,402.9 203.0,402.9 203.5,402.9 204.0,403.0 204.5,403.0 205.0,403.0 205.5,403.1 206.0,403.1 206.5,403.1 207.0,403.1 207.5,403.2 208.0,403.2 208.5,403.2 209.0,403.2 209.5,403.3 210.0,403.3 210.5,403.3 211.0,403.3 211.5,403.3 212.0,403.4 212.5,403.4 213.0,403.4 213.5,403.4 214.0,403.4 214.5,403.5 215.0,403.5 215.5,403.5 216.0,403.5 216.5,403.5 217.0,403.5 217.5,403.5 218.0,403.6 218.5,403.6 219.0,403.6 219.5,403.6 220.0,403.6 220.5,403.6 221.0,403.6 221.5,403.6 222.0,403.7 222.5,403.7 223.0,403.7 223.5,403.7 224.0,403.7 224.5,403.7 225.0,403.7 225.5,403.7 226.0,403.7 226.5,403.7 227.0,403.8 227.5,403.8 228.0,403.8 228.5,403.8 229.0,403.8 229.5,403.8 230.0,403.8 230.5,403.8 231.0,403.8 231.5,403.8 232.0,403.8 232.5,403.8 233.0,403.8 233.5,403.9 234.0,403.9 234.5,403.9 235.0,403.9 235.5,403.9 236.0,403.9 236.5,403.9 237.0,403.9 237.5,403.9 238.0,403.9 238.5,403.9 239.0,403.9 239.5,403.9 240.0,403.9 240.5,403.9 241.0,403.9 241.5,403.9 242.0,403.9 242.5,404.0 243.0,404.0 243.5,404.0 244.0,404.0 244.5,404.0 245.0,404.0 245.5,404.0 246.0,404.0 246.5,404.0 247.0,404.0 247.5,404.0 248.0,404.0 248.5,404.0 249.0,404.0 249.5,404.0 250.0,404.0 250.5,404.0 251.0,404.0 251.5,404.0 252.0,404.0 252.5,404.0 253.0,404.0 253.5,404.0 254.0,404.0 254.5,404.0 255.0,404.0 255.5,404.0 256.0,404.0 256.5,404.1 257.0,404.1 257.5,404.1 258.0,404.1 258.5,404.1 259.0,404.1 259.5,404.1 260.0,404.1 260.5,404.1 261.0,404.1 261.5,404.1 262.0,404.1 262.5,404.1 263.0,404.1 263.5,404.1 264.0,404.1 264.5,404.1 265.0,404.1 265.5,404.1 266.0,404.1 266.5,404.1 267.0,404.1 267.5,404.1 268.0,404.1 268.5,404.1 269.0,404.1 269.5,404.1 270.0,404.1 270.5,404.1 271.0,404.1 271.5,404.1 272.0,404.1 272.5,404.1 273.0,404.1 273.5,404.1 274.0,404.1 274.5,404.1 275.0,404.1 275.5,404.1 276.0,404.1 276.5,404.1 277.0,404.1 277.5,404.1 278.0,404.1 278.5,404.1 279.0,404.1 279.5,404.1 280.0,404.1 280.5,404.1 281.0,404.1 281.5,404.1 282.0,404.1 282.5,404.2 283.0,404.2 283.5,404.2 284.0,404.2 284.5,404.2 285.0,404.2 285.5,404.2 286.0,404.2 286.5,404.2 287.0,404.2 287.5,404.2 288.0,404.2 288.5,404.2 289.0,404.2 289.5,404.2 290.0,404.2 290.5,404.2 291.0,404.2 291.5,404.2 292.0,404.2 292.5,404.2 293.0,404.2 293.5,404.2 294.0,404.2 294.5,404.2 295.0,404.2 295.5,404.2 296.0,404.2 296.5,404.2 297.0,404.2 297.5,404.2 298.0,404.2 298.5,404.2" fill="none" stroke="#111" stroke-width="2.0" stroke-linejoin="round"/>
<text x="305.2" y="408.5" font-family="Liberation Sans, sans-serif" font-size="12.4" fill="#111">AfM</text>
<polyline points="60.5,431.4 61.0,431.4 61.5,431.4 62.0,431.4 62.5,431.4 63.0,431.4 63.5,431.4 64.0,431.4 64.5,431.4 65.0,431.4 65.5,431.4 66.0,431.4 66.5,431.4 67.0,431.4 67.5,431.4 68.0,431.4 68.5,431.4 69.0,431.4 69.5,431.4 70.0,431.4 70.5,431.4 71.0,431.4 71.5,431.4 72.0,431.4 72.5,431.4 73.0,431.4 73.5,431.4 74.0,431.4 74.5,431.4 75.0,431.4 75.5,431.4 76.0,431.4 76.5,431.4 77.0,431.4 77.5,431.4 78.0,431.4 78.5,431.4 79.0,431.4 79.5,431.4 80.0,431.4 80.5,431.4 81.0,431.4 81.5,431.4 82.0,431.4 82.5,431.4 83.0,431.4 83.5,431.4 84.0,431.4 84.5,431.4 85.0,431.4 85.5,431.4 86.0,431.4 86.5,431.4 87.0,431.4 87.5,431.4 88.0,431.4 88.5,431.4 89.0,431.4 89.5,431.4 90.0,431.4 90.5,431.4 91.0,431.4 91.5,431.4 92.0,431.4 92.5,431.4 93.0,431.4 93.5,431.4 94.0,431.4 94.5,431.4 95.0,431.4 95.5,431.4 96.0,431.4 96.5,431.4 97.0,431.4 97.5,431.4 98.0,431.4 98.5,431.4 99.0,431.4 99.5,431.4 100.0,431.4 100.5,431.4 101.0,431.4 101.5,431.4 102.0,431.4 102.5,431.4 103.0,431.4 103.5,431.4 104.0,431.4 104.5,431.4 105.0,431.4 105.5,431.4 106.0,431.4 106.5,431.4 107.0,431.4 107.5,431.4 108.0,431.4 108.5,431.4 109.0,431.4 109.5,431.4 110.0,431.4 110.5,431.4 111.0,431.4 111.5,431.4 112.0,431.4 112.5,431.4 113.0,431.4 113.5,431.4 114.0,431.4 114.5,431.4 115.0,431.4 115.5,431.4 116.0,431.4 116.5,431.4 117.0,431.4 117.5,431.4 118.0,431.4 118.5,431.4 119.0,431.4 119.5,431.4 120.0,431.4 120.5,431.4 121.0,431.4 121.5,431.4 122.0,431.4 122.5,431.4 123.0,431.4 123.5,431.4 124.0,431.3 124.5,431.3 125.0,431.3 125.5,431.3 126.0,431.2 126.5,431.2 127.0,431.2 127.5,431.1 128.0,431.1 128.5,431.0 129.0,430.9 129.5,430.8 130.0,430.8 130.5,430.7 131.0,430.5 131.5,430.4 132.0,430.3 132.5,430.1 133.0,430.0 133.5,429.8 134.0,429.6 134.5,429.4 135.0,429.1 135.5,428.9 136.0,428.6 136.5,428.3 137.0,428.0 137.5,427.6 138.0,427.2 138.5,426.8 139.0,426.4 139.5,426.0 140.0,425.5 140.5,425.1 141.0,424.6 141.5,424.0 142.0,423.5 142.5,422.9 143.0,422.4 143.5,421.8 144.0,421.2 144.5,420.5 145.0,419.9 145.5,419.3 146.0,418.6 146.5,418.0 147.0,417.4 147.5,416.7 148.0,416.1 148.5,415.4 149.0,414.8 149.5,414.2 150.0,413.6 150.5,413.0 151.0,412.5 151.5,411.9 152.0,411.4 152.5,410.9 153.0,410.5 153.5,410.0 154.0,409.6 154.5,409.2 155.0,408.9 155.5,408.6 156.0,408.3 156.5,408.0 157.0,407.8 157.5,407.6 158.0,407.4 158.5,407.3 159.0,407.2 159.5,407.1 160.0,407.1 160.5,407.0 161.0,407.0 161.5,407.0 162.0,407.0 162.5,407.2 163.0,407.4 163.5,407.6 164.0,407.9 164.5,408.3 165.0,408.8 165.5,409.2 166.0,409.8 166.5,410.3 167.0,410.9 167.5,411.6 168.0,412.2 168.5,412.9 169.0,413.6 169.5,414.3 170.0,415.0 170.5,415.7 171.0,416.4 171.5,417.1 172.0,417.8 172.5,418.4 173.0,419.1 173.5,419.7 174.0,420.3 174.5,420.9 175.0,421.5 175.5,422.0 176.0,422.6 176.5,423.1 177.0,423.5 177.5,424.0 178.0,424.4 178.5,424.8 179.0,425.1 179.5,425.5 180.0,425.8 180.5,426.1 181.0,426.4 181.5,426.6 182.0,426.9 182.5,427.1 183.0,427.3 183.5,427.5 184.0,427.7 184.5,427.8 185.0,428.0 185.5,428.1 186.0,428.3 186.5,428.4 187.0,428.5 187.5,428.6 188.0,428.7 188.5,428.8 189.0,428.9 189.5,428.9 190.0,429.0 190.5,429.1 191.0,429.2 191.5,429.2 192.0,429.3 192.5,429.3 193.0,429.4 193.5,429.4 194.0,429.5 194.5,429.5 195.0,429.6 195.5,429.6 196.0,429.7 196.5,429.7 197.0,429.7 197.5,429.8 198.0,429.8 198.5,429.9 199.0,429.9 199.5,429.9 200.0,430.0 200.5,430.0 201.0,430.0 201.5,430.1 202.0,430.1 202.5,430.1 203.0,430.2 203.5,430.2 204.0,430.2 204.5,430.2 205.0,430.3 205.5,430.3 206.0,430.3 206.5,430.3 207.0,430.4 207.5,430.4 208.0,430.4 208.5,430.4 209.0,430.5 209.5,430.5 210.0,430.5 210.5,430.5 211.0,430.6 211.5,430.6 212.0,430.6 212.5,430.6 213.0,430.6 213.5,430.7 214.0,430.7 214.5,430.7 215.0,430.7 215.5,430.7 216.0,430.7 216.5,430.8 217.0,430.8 217.5,430.8 218.0,430.8 218.5,430.8 219.0,430.8 219.5,430.9 220.0,430.9 220.5,430.9 221.0,430.9 221.5,430.9 222.0,430.9 222.5,430.9 223.0,431.0 223.5,431.0 224.0,431.0 224.5,431.0 225.0,431.0 225.5,431.0 226.0,431.0 226.5,431.0 227.0,431.0 227.5,431.1 228.0,431.1 228.5,431.1 229.0,431.1 229.5,431.1 230.0,431.1 230.5,431.1 231.0,431.1 231.5,431.1 232.0,431.1 232.5,431.2 233.0,431.2 233.5,431.2 234.0,431.2 234.5,431.2 235.0,431.2 235.5,431.2 236.0,431.2 236.5,431.2 237.0,431.2 237.5,431.2 238.0,431.2 238.5,431.2 239.0,431.3 239.5,431.3 240.0,431.3 240.5,431.3 241.0,431.3 241.5,431.3 242.0,431.3 242.5,431.3 243.0,431.3 243.5,431.3 244.0,431.3 244.5,431.3 245.0,431.3 245.5,431.3 246.0,431.3 246.5,431.3 247.0,431.3 247.5,431.3 248.0,431.4 248.5,431.4 249.0,431.4 249.5,431.4 250.0,431.4 250.5,431.4 251.0,431.4 251.5,431.4 252.0,431.4 252.5,431.4 253.0,431.4 253.5,431.4 254.0,431.4 254.5,431.4 255.0,431.4 255.5,431.4 256.0,431.4 256.5,431.4 257.0,431.4 257.5,431.4 258.0,431.4 258.5,431.4 259.0,431.4 259.5,431.4 260.0,431.4 260.5,431.4 261.0,431.5 261.5,431.5 262.0,431.5 262.5,431.5 263.0,431.5 263.5,431.5 264.0,431.5 264.5,431.5 265.0,431.5 265.5,431.5 266.0,431.5 266.5,431.5 267.0,431.5 267.5,431.5 268.0,431.5 268.5,431.5 269.0,431.5 269.5,431.5 270.0,431.5 270.5,431.5 271.0,431.5 271.5,431.5 272.0,431.5 272.5,431.5 273.0,431.5 273.5,431.5 274.0,431.5 274.5,431.5 275.0,431.5 275.5,431.5 276.0,431.5 276.5,431.5 277.0,431.5 277.5,431.5 278.0,431.5 278.5,431.5 279.0,431.5 279.5,431.5 280.0,431.5 280.5,431.5 281.0,431.5 281.5,431.5 282.0,431.5 282.5,431.5 283.0,431.5 283.5,431.5 284.0,431.5 284.5,431.5 285.0,431.5 285.5,431.5 286.0,431.5 286.5,431.5 287.0,431.6 287.5,431.6 288.0,431.6 288.5,431.6 289.0,431.6 289.5,431.6 290.0,431.6 290.5,431.6 291.0,431.6 291.5,431.6 292.0,431.6 292.5,431.6 293.0,431.6 293.5,431.6 294.0,431.6 294.5,431.6 295.0,431.6 295.5,431.6 296.0,431.6 296.5,431.6 297.0,431.6 297.5,431.6 298.0,431.6 298.5,431.6" fill="none" stroke="#111" stroke-width="2.0" stroke-linejoin="round"/>
<text x="305.2" y="436.8" font-family="Liberation Sans, sans-serif" font-size="12.4" fill="#111">RpM</text>
<text x="376.8" y="237.5" font-family="Liberation Sans, sans-serif" font-weight="bold" font-size="20">d</text>
<text x="424.6" y="440.0" font-family="Liberation Sans, sans-serif" font-size="13.8" fill="#111" text-anchor="end">0</text>
<text x="424.6" y="412.0" font-family="Liberation Sans, sans-serif" font-size="13.8" fill="#111" text-anchor="end">100</text>
<text x="424.6" y="384.0" font-family="Liberation Sans, sans-serif" font-size="13.8" fill="#111" text-anchor="end">200</text>
<text x="424.6" y="356.0" font-family="Liberation Sans, sans-serif" font-size="13.8" fill="#111" text-anchor="end">300</text>
<text x="424.6" y="328.0" font-family="Liberation Sans, sans-serif" font-size="13.8" fill="#111" text-anchor="end">400</text>
<text x="424.6" y="300.0" font-family="Liberation Sans, sans-serif" font-size="13.8" fill="#111" text-anchor="end">500</text>
<text x="424.6" y="272.0" font-family="Liberation Sans, sans-serif" font-size="13.8" fill="#111" text-anchor="end">600</text>
<text x="436.3" y="459.8" font-family="Liberation Sans, sans-serif" font-size="13.8" fill="#111" text-anchor="middle">0.9</text>
<text x="476.0" y="459.8" font-family="Liberation Sans, sans-serif" font-size="13.8" fill="#111" text-anchor="middle">1.0</text>
<text x="515.7" y="459.8" font-family="Liberation Sans, sans-serif" font-size="13.8" fill="#111" text-anchor="middle">1.1</text>
<text x="555.3" y="459.8" font-family="Liberation Sans, sans-serif" font-size="13.8" fill="#111" text-anchor="middle">1.2</text>
<text x="595.0" y="459.8" font-family="Liberation Sans, sans-serif" font-size="13.8" fill="#111" text-anchor="middle">1.3</text>
<text x="634.7" y="459.8" font-family="Liberation Sans, sans-serif" font-size="13.8" fill="#111" text-anchor="middle">1.4</text>
<text x="674.4" y="459.8" font-family="Liberation Sans, sans-serif" font-size="13.8" fill="#111" text-anchor="middle">1.5</text>
<text x="494.9" y="480.3" font-family="Liberation Sans, sans-serif" font-size="14.3" fill="#111">Elution volume (ml)</text>
<text transform="translate(387.5,387) rotate(-90)" font-family="Liberation Sans, sans-serif" font-size="14" fill="#111">A<tspan font-size="10" dy="3.5">280</tspan><tspan dy="-3.5"> (mAU)</tspan></text>
<polyline points="436.3,437.0 436.8,437.0 437.3,437.0 437.8,437.0 438.3,437.0 438.8,437.0 439.3,437.0 439.8,437.0 440.3,437.0 440.8,437.0 441.3,437.0 441.8,437.0 442.3,437.0 442.8,437.0 443.3,437.0 443.8,437.0 444.3,437.0 444.8,437.0 445.3,437.0 445.8,437.0 446.3,437.0 446.8,437.0 447.3,437.0 447.8,437.0 448.3,437.0 448.8,437.0 449.3,437.0 449.8,437.0 450.3,437.0 450.8,437.0 451.3,437.0 451.8,437.0 452.3,437.0 452.8,437.0 453.3,437.0 453.8,437.0 454.3,437.0 454.8,437.0 455.3,437.0 455.8,437.0 456.3,437.0 456.8,437.0 457.3,437.0 457.8,437.0 458.3,437.0 458.8,437.0 459.3,437.0 459.8,437.0 460.3,437.0 460.8,437.0 461.3,437.0 461.8,437.0 462.3,437.0 462.8,437.0 463.3,437.0 463.8,437.0 464.3,437.0 464.8,437.0 465.3,437.0 465.8,437.0 466.3,437.0 466.8,437.0 467.3,437.0 467.8,437.0 468.3,437.0 468.8,437.0 469.3,437.0 469.8,437.0 470.3,437.0 470.8,437.0 471.3,437.0 471.8,437.0 472.3,437.0 472.8,437.0 473.3,437.0 473.8,437.0 474.3,437.0 474.8,437.0 475.3,437.0 475.8,437.0 476.3,437.0 476.8,437.0 477.3,437.0 477.8,437.0 478.3,437.0 478.8,437.0 479.3,437.0 479.8,437.0 480.3,437.0 480.8,437.0 481.3,437.0 481.8,437.0 482.3,437.0 482.8,437.0 483.3,437.0 483.8,437.0 484.3,437.0 484.8,437.0 485.3,437.0 485.8,437.0 486.3,437.0 486.8,437.0 487.3,437.0 487.8,437.0 488.3,437.0 488.8,437.0 489.3,437.0 489.8,437.0 490.3,437.0 490.8,437.0 491.3,437.0 491.8,437.0 492.3,437.0 492.8,437.0 493.3,437.0 493.8,437.0 494.3,437.0 494.8,437.0 495.3,437.0 495.8,437.0 496.3,437.0 496.8,437.0 497.3,437.0 497.8,437.0 498.3,437.0 498.8,437.0 499.3,437.0 499.8,437.0 500.3,437.0 500.8,437.0 501.3,437.0 501.8,437.0 502.3,437.0 502.8,437.0 503.3,437.0 503.8,437.0 504.3,437.0 504.8,437.0 505.3,437.0 505.8,437.0 506.3,437.0 506.8,437.0 507.3,437.0 507.8,437.0 508.3,437.0 508.8,437.0 509.3,437.0 509.8,437.0 510.3,437.0 510.8,437.0 511.3,437.0 511.8,437.0 512.3,437.0 512.8,437.0 513.3,437.0 513.8,437.0 514.3,437.0 514.8,437.0 515.3,437.0 515.8,437.0 516.3,437.0 516.8,437.0 517.3,437.0 517.8,437.0 518.3,437.0 518.8,437.0 519.3,437.0 519.8,437.0 520.3,437.0 520.8,437.0 521.3,437.0 521.8,437.0 522.3,437.0 522.8,437.0 523.3,437.0 523.8,437.0 524.3,437.0 524.8,437.0 525.3,437.0 525.8,437.0 526.3,437.0 526.8,437.0 527.3,437.0 527.8,437.0 528.3,437.0 528.8,437.0 529.3,437.0 529.8,437.0 530.3,437.0 530.8,437.0 531.3,437.0 531.8,437.0 532.3,437.0 532.8,437.0 533.3,437.0 533.8,437.0 534.3,437.0 534.8,437.0 535.3,437.0 535.8,437.0 536.3,437.0 536.8,437.0 537.3,437.0 537.8,437.0 538.3,437.0 538.8,437.0 539.3,437.0 539.8,437.0 540.3,437.0 540.8,437.0 541.3,437.0 541.8,437.0 542.3,437.0 542.8,437.0 543.3,437.0 543.8,437.0 544.3,437.0 544.8,437.0 545.3,437.0 545.8,437.0 546.3,437.0 546.8,437.0 547.3,437.0 547.8,437.0 548.3,437.0 548.8,437.0 549.3,437.0 549.8,437.0 550.3,437.0 550.8,437.0 551.3,437.0 551.8,437.0 552.3,437.0 552.8,437.0 553.3,437.0 553.8,437.0 554.3,437.0 554.8,437.0 555.3,437.0 555.8,437.0 556.3,437.0 556.8,437.0 557.3,437.0 557.8,437.0 558.3,437.0 558.8,437.0 559.3,437.0 559.8,437.0 560.3,437.0 560.8,437.0 561.3,437.0 561.8,437.0 562.3,437.0 562.8,437.0 563.3,437.0 563.8,437.0 564.3,437.0 564.8,437.0 565.3,437.0 565.8,437.0 566.3,437.0 566.8,437.0 567.3,437.0 567.8,437.0 568.3,437.0 568.8,437.0 569.3,437.0 569.8,437.0 570.3,437.0 570.8,437.0 571.3,437.0 571.8,437.0 572.3,437.0 572.8,437.0 573.3,437.0 573.8,437.0 574.3,437.0 574.8,437.0 575.3,437.0 575.8,437.0 576.3,437.0 576.8,437.0 577.3,437.0 577.8,437.0 578.3,437.0 578.8,437.0 579.3,437.0 579.8,437.0 580.3,437.0 580.8,437.0 581.3,437.0 581.8,437.0 582.3,437.0 582.8,437.0 583.3,437.0 583.8,437.0 584.3,437.0 584.8,437.0 585.3,437.0 585.8,437.0 586.3,437.0 586.8,437.0 587.3,437.0 587.8,437.0 588.3,437.0 588.8,437.0 589.3,437.0 589.8,437.0 590.3,437.0 590.8,437.0 591.3,437.0 591.8,437.0 592.3,437.0 592.8,437.0 593.3,437.0 593.8,437.0 594.3,437.0 594.8,437.0 595.3,437.0 595.8,437.0 596.3,437.0 596.8,437.0 597.3,437.0 597.8,437.0 598.3,437.0 598.8,437.0 599.3,437.0 599.8,437.0 600.3,437.0 600.8,437.0 601.3,437.0 601.8,437.0 602.3,437.0 602.8,437.0 603.3,437.0 603.8,437.0 604.3,437.0 604.8,437.0 605.3,437.0 605.8,437.0 606.3,437.0 606.8,437.0 607.3,437.0 607.8,437.0 608.3,437.0 608.8,437.0 609.3,437.0 609.8,437.0 610.3,437.0 610.8,437.0 611.3,437.0 611.8,437.0 612.3,437.0 612.8,437.0 613.3,437.0 613.8,437.0 614.3,437.0 614.8,437.0 615.3,437.0 615.8,437.0 616.3,437.0 616.8,437.0 617.3,437.0 617.8,437.0 618.3,437.0 618.8,437.0 619.3,437.0 619.8,437.0 620.3,437.0 620.8,437.0 621.3,437.0 621.8,437.0 622.3,437.0 622.8,437.0 623.3,437.0 623.8,437.0 624.3,437.0 624.8,437.0 625.3,437.0 625.8,437.0 626.3,437.0 626.8,437.0 627.3,437.0 627.8,437.0 628.3,437.0 628.8,437.0 629.3,437.0 629.8,437.0 630.3,437.0 630.8,437.0 631.3,437.0 631.8,437.0 632.3,437.0 632.8,437.0 633.3,437.0 633.8,437.0 634.3,437.0 634.8,437.0 635.3,437.0 635.8,437.0 636.3,437.0 636.8,437.0 637.3,437.0 637.8,437.0 638.3,437.0 638.8,437.0 639.3,437.0 639.8,437.0 640.3,437.0 640.8,437.0 641.3,437.0 641.8,437.0 642.3,437.0 642.8,437.0 643.3,437.0 643.8,437.0 644.3,437.0 644.8,437.0 645.3,437.0 645.8,437.0 646.3,437.0 646.8,437.0 647.3,437.0 647.8,437.0 648.3,437.0 648.8,437.0 649.3,437.0 649.8,437.0 650.3,437.0 650.8,437.0 651.3,437.0 651.8,437.0 652.3,437.0 652.8,437.0 653.3,437.0 653.8,437.0 654.3,437.0 654.8,437.0 655.3,437.0 655.8,437.0 656.3,437.0 656.8,437.0 657.3,437.0 657.8,437.0 658.3,437.0 658.8,437.0 659.3,437.0 659.8,437.0 660.3,437.0 660.8,437.0 661.3,437.0 661.8,437.0 662.3,437.0 662.8,437.0 663.3,437.0 663.8,437.0 664.3,437.0 664.8,437.0 665.3,437.0 665.8,437.0 666.3,437.0 666.8,437.0 667.3,437.0 667.8,437.0 668.3,437.0 668.8,437.0 669.3,437.0 669.8,437.0 670.3,437.0 670.8,437.0 671.3,437.0 671.8,437.0 672.3,437.0 672.8,437.0 673.3,437.0 673.8,437.0 674.3,437.0" fill="none" stroke="#f2b8d8" stroke-width="1.3" stroke-linejoin="round"/>
<polyline points="436.3,436.0 436.8,436.0 437.3,436.0 437.8,436.0 438.3,436.0 438.8,436.0 439.3,436.0 439.8,436.0 440.3,436.0 440.8,436.0 441.3,436.0 441.8,436.0 442.3,436.0 442.8,436.0 443.3,436.0 443.8,436.0 444.3,436.0 444.8,436.0 445.3,436.0 445.8,436.0 446.3,436.0 446.8,436.0 447.3,436.0 447.8,436.0 448.3,436.0 448.8,436.0 449.3,436.0 449.8,436.0 450.3,436.0 450.8,436.0 451.3,436.0 451.8,436.0 452.3,436.0 452.8,436.0 453.3,436.0 453.8,436.0 454.3,436.0 454.8,436.0 455.3,436.0 455.8,436.0 456.3,436.0 456.8,436.0 457.3,436.0 457.8,436.0 458.3,436.0 458.8,436.0 459.3,436.0 459.8,436.0 460.3,436.0 460.8,436.0 461.3,436.0 461.8,436.0 462.3,436.0 462.8,436.0 463.3,436.0 463.8,436.0 464.3,436.0 464.8,436.0 465.3,436.0 465.8,436.0 466.3,436.0 466.8,436.0 467.3,436.0 467.8,436.0 468.3,436.0 468.8,436.0 469.3,436.0 469.8,436.0 470.3,436.0 470.8,436.0 471.3,436.0 471.8,436.0 472.3,436.0 472.8,436.0 473.3,436.0 473.8,436.0 474.3,436.0 474.8,436.0 475.3,436.0 475.8,436.0 476.3,436.0 476.8,436.0 477.3,436.0 477.8,436.0 478.3,436.0 478.8,436.0 479.3,436.0 479.8,436.0 480.3,436.0 480.8,436.0 481.3,436.0 481.8,436.0 482.3,436.0 482.8,436.0 483.3,436.0 483.8,436.0 484.3,436.0 484.8,436.0 485.3,436.0 485.8,436.0 486.3,436.0 486.8,436.0 487.3,436.0 487.8,436.0 488.3,436.0 488.8,436.0 489.3,436.0 489.8,436.0 490.3,436.0 490.8,436.0 491.3,436.0 491.8,436.0 492.3,436.0 492.8,436.0 493.3,436.0 493.8,436.0 494.3,436.0 494.8,436.0 495.3,436.0 495.8,436.0 496.3,436.0 496.8,436.0 497.3,436.0 497.8,436.0 498.3,436.0 498.8,436.0 499.3,436.0 499.8,436.0 500.3,436.0 500.8,436.0 501.3,436.0 501.8,436.0 502.3,436.0 502.8,436.0 503.3,436.0 503.8,436.0 504.3,436.0 504.8,436.0 505.3,436.0 505.8,436.0 506.3,436.0 506.8,436.0 507.3,436.0 507.8,436.0 508.3,436.0 508.8,436.0 509.3,436.0 509.8,436.0 510.3,436.0 510.8,436.0 511.3,436.0 511.8,436.0 512.3,436.0 512.8,436.0 513.3,436.0 513.8,436.0 514.3,436.0 514.8,436.0 515.3,435.9 515.8,435.9 516.3,435.9 516.8,435.9 517.3,435.9 517.8,435.9 518.3,435.9 518.8,435.9 519.3,435.8 519.8,435.8 520.3,435.8 520.8,435.8 521.3,435.8 521.8,435.7 522.3,435.7 522.8,435.7 523.3,435.6 523.8,435.6 524.3,435.5 524.8,435.5 525.3,435.4 525.8,435.4 526.3,435.3 526.8,435.3 527.3,435.2 527.8,435.1 528.3,435.0 528.8,435.0 529.3,434.9 529.8,434.8 530.3,434.7 530.8,434.6 531.3,434.5 531.8,434.4 532.3,434.4 532.8,434.3 533.3,434.2 533.8,434.1 534.3,434.0 534.8,433.9 535.3,433.8 535.8,433.7 536.3,433.6 536.8,433.5 537.3,433.4 537.8,433.3 538.3,433.2 538.8,433.1 539.3,433.0 539.8,432.9 540.3,432.9 540.8,432.8 541.3,432.7 541.8,432.7 542.3,432.6 542.8,432.6 543.3,432.5 543.8,432.5 544.3,432.5 544.8,432.4 545.3,432.4 545.8,432.4 546.3,432.4 546.8,432.4 547.3,432.4 547.8,432.4 548.3,432.4 548.8,432.4 549.3,432.4 549.8,432.5 550.3,432.5 550.8,432.5 551.3,432.6 551.8,432.6 552.3,432.6 552.8,432.7 553.3,432.8 553.8,432.8 554.3,432.9 554.8,433.0 555.3,433.0 555.8,433.1 556.3,433.2 556.8,433.3 557.3,433.4 557.8,433.4 558.3,433.5 558.8,433.6 559.3,433.7 559.8,433.8 560.3,433.9 560.8,434.0 561.3,434.1 561.8,434.2 562.3,434.3 562.8,434.4 563.3,434.5 563.8,434.6 564.3,434.6 564.8,434.7 565.3,434.8 565.8,434.9 566.3,434.9 566.8,435.0 567.3,435.1 567.8,435.1 568.3,435.2 568.8,435.3 569.3,435.3 569.8,435.4 570.3,435.4 570.8,435.5 571.3,435.5 571.8,435.5 572.3,435.6 572.8,435.6 573.3,435.6 573.8,435.7 574.3,435.7 574.8,435.7 575.3,435.7 575.8,435.7 576.3,435.8 576.8,435.8 577.3,435.8 577.8,435.8 578.3,435.8 578.8,435.8 579.3,435.8 579.8,435.8 580.3,435.9 580.8,435.9 581.3,435.9 581.8,435.9 582.3,435.9 582.8,435.9 583.3,435.9 583.8,435.9 584.3,435.9 584.8,435.9 585.3,435.9 585.8,435.9 586.3,435.9 586.8,435.9 587.3,435.9 587.8,435.9 588.3,435.9 588.8,435.9 589.3,435.9 589.8,435.9 590.3,435.9 590.8,435.9 591.3,435.9 591.8,435.9 592.3,435.9 592.8,435.9 593.3,435.9 593.8,435.9 594.3,435.9 594.8,435.9 595.3,436.0 595.8,436.0 596.3,436.0 596.8,436.0 597.3,436.0 597.8,436.0 598.3,436.0 598.8,436.0 599.3,436.0 599.8,436.0 600.3,436.0 600.8,436.0 601.3,436.0 601.8,436.0 602.3,436.0 602.8,436.0 603.3,436.0 603.8,436.0 604.3,436.0 604.8,436.0 605.3,436.0 605.8,436.0 606.3,436.0 606.8,436.0 607.3,436.0 607.8,436.0 608.3,436.0 608.8,436.0 609.3,436.0 609.8,436.0 610.3,436.0 610.8,436.0 611.3,436.0 611.8,436.0 612.3,436.0 612.8,436.0 613.3,436.0 613.8,436.0 614.3,436.0 614.8,436.0 615.3,436.0 615.8,436.0 616.3,436.0 616.8,436.0 617.3,436.0 617.8,436.0 618.3,436.0 618.8,436.0 619.3,436.0 619.8,436.0 620.3,436.0 620.8,436.0 621.3,436.0 621.8,436.0 622.3,436.0 622.8,436.0 623.3,436.0 623.8,436.0 624.3,436.0 624.8,436.0 625.3,436.0 625.8,436.0 626.3,436.0 626.8,436.0 627.3,436.0 627.8,436.0 628.3,436.0 628.8,436.0 629.3,436.0 629.8,436.0 630.3,436.0 630.8,436.0 631.3,436.0 631.8,436.0 632.3,436.0 632.8,436.0 633.3,436.0 633.8,436.0 634.3,436.0 634.8,436.0 635.3,436.0 635.8,436.0 636.3,436.0 636.8,436.0 637.3,436.0 637.8,436.0 638.3,436.0 638.8,436.0 639.3,436.0 639.8,436.0 640.3,436.0 640.8,436.0 641.3,436.0 641.8,436.0 642.3,436.0 642.8,436.0 643.3,436.0 643.8,436.0 644.3,436.0 644.8,436.0 645.3,436.0 645.8,436.0 646.3,436.0 646.8,436.0 647.3,436.0 647.8,436.0 648.3,436.0 648.8,436.0 649.3,436.0 649.8,436.0 650.3,436.0 650.8,436.0 651.3,436.0 651.8,436.0 652.3,436.0 652.8,436.0 653.3,436.0 653.8,436.0 654.3,436.0 654.8,436.0 655.3,436.0 655.8,436.0 656.3,436.0 656.8,436.0 657.3,436.0 657.8,436.0 658.3,436.0 658.8,436.0 659.3,436.0 659.8,436.0 660.3,436.0 660.8,436.0 661.3,436.0 661.8,436.0 662.3,436.0 662.8,436.0 663.3,436.0 663.8,436.0 664.3,436.0 664.8,436.0 665.3,436.0 665.8,436.0 666.3,436.0 666.8,436.0 667.3,436.0 667.8,436.0 668.3,436.0 668.8,436.0 669.3,436.0 669.8,436.0 670.3,436.0 670.8,436.0 671.3,436.0 671.8,436.0 672.3,436.0 672.8,436.0 673.3,436.0 673.8,436.0 674.3,436.0" fill="none" stroke="#6b1848" stroke-width="1.6" stroke-linejoin="round"/>
<polyline points="436.3,434.7 436.8,434.7 437.3,434.7 437.8,434.7 438.3,434.7 438.8,434.7 439.3,434.7 439.8,434.7 440.3,434.7 440.8,434.7 441.3,434.7 441.8,434.7 442.3,434.7 442.8,434.7 443.3,434.7 443.8,434.7 444.3,434.7 444.8,434.7 445.3,434.7 445.8,434.7 446.3,434.7 446.8,434.7 447.3,434.7 447.8,434.7 448.3,434.7 448.8,434.7 449.3,434.7 449.8,434.7 450.3,434.7 450.8,434.7 451.3,434.7 451.8,434.7 452.3,434.7 452.8,434.7 453.3,434.7 453.8,434.7 454.3,434.7 454.8,434.7 455.3,434.7 455.8,434.7 456.3,434.7 456.8,434.7 457.3,434.7 457.8,434.7 458.3,434.7 458.8,434.7 459.3,434.7 459.8,434.7 460.3,434.7 460.8,434.7 461.3,434.7 461.8,434.7 462.3,434.7 462.8,434.7 463.3,434.7 463.8,434.7 464.3,434.7 464.8,434.7 465.3,434.7 465.8,434.7 466.3,434.7 466.8,434.7 467.3,434.7 467.8,434.7 468.3,434.7 468.8,434.7 469.3,434.7 469.8,434.7 470.3,434.7 470.8,434.7 471.3,434.7 471.8,434.7 472.3,434.7 472.8,434.7 473.3,434.7 473.8,434.7 474.3,434.7 474.8,434.7 475.3,434.7 475.8,434.7 476.3,434.7 476.8,434.7 477.3,434.7 477.8,434.7 478.3,434.7 478.8,434.7 479.3,434.7 479.8,434.7 480.3,434.7 480.8,434.7 481.3,434.7 481.8,434.7 482.3,434.7 482.8,434.7 483.3,434.7 483.8,434.7 484.3,434.7 484.8,434.7 485.3,434.7 485.8,434.7 486.3,434.7 486.8,434.7 487.3,434.7 487.8,434.7 488.3,434.7 488.8,434.7 489.3,434.7 489.8,434.7 490.3,434.7 490.8,434.7 491.3,434.7 491.8,434.7 492.3,434.7 492.8,434.7 493.3,434.7 493.8,434.7 494.3,434.7 494.8,434.7 495.3,434.7 495.8,434.7 496.3,434.7 496.8,434.7 497.3,434.7 497.8,434.7 498.3,434.7 498.8,434.7 499.3,434.7 499.8,434.7 500.3,434.7 500.8,434.7 501.3,434.7 501.8,434.7 502.3,434.7 502.8,434.7 503.3,434.7 503.8,434.7 504.3,434.7 504.8,434.7 505.3,434.7 505.8,434.7 506.3,434.7 506.8,434.7 507.3,434.7 507.8,434.7 508.3,434.7 508.8,434.7 509.3,434.7 509.8,434.7 510.3,434.7 510.8,434.7 511.3,434.7 511.8,434.7 512.3,434.7 512.8,434.7 513.3,434.7 513.8,434.7 514.3,434.6 514.8,434.6 515.3,434.6 515.8,434.6 516.3,434.6 516.8,434.6 517.3,434.6 517.8,434.6 518.3,434.5 518.8,434.5 519.3,434.5 519.8,434.5 520.3,434.4 520.8,434.4 521.3,434.4 521.8,434.3 522.3,434.3 522.8,434.2 523.3,434.2 523.8,434.1 524.3,434.1 524.8,434.0 525.3,433.9 525.8,433.9 526.3,433.8 526.8,433.7 527.3,433.6 527.8,433.5 528.3,433.4 528.8,433.3 529.3,433.2 529.8,433.1 530.3,433.0 530.8,432.9 531.3,432.7 531.8,432.6 532.3,432.5 532.8,432.4 533.3,432.2 533.8,432.1 534.3,432.0 534.8,431.8 535.3,431.7 535.8,431.6 536.3,431.5 536.8,431.3 537.3,431.2 537.8,431.1 538.3,431.0 538.8,430.9 539.3,430.8 539.8,430.7 540.3,430.6 540.8,430.5 541.3,430.4 541.8,430.3 542.3,430.3 542.8,430.2 543.3,430.2 543.8,430.1 544.3,430.1 544.8,430.0 545.3,430.0 545.8,430.0 546.3,430.0 546.8,430.0 547.3,430.0 547.8,430.0 548.3,430.0 548.8,430.0 549.3,430.1 549.8,430.1 550.3,430.1 550.8,430.2 551.3,430.2 551.8,430.3 552.3,430.3 552.8,430.4 553.3,430.5 553.8,430.6 554.3,430.7 554.8,430.8 555.3,430.9 555.8,431.0 556.3,431.1 556.8,431.2 557.3,431.3 557.8,431.4 558.3,431.5 558.8,431.7 559.3,431.8 559.8,431.9 560.3,432.0 560.8,432.2 561.3,432.3 561.8,432.4 562.3,432.5 562.8,432.6 563.3,432.7 563.8,432.9 564.3,433.0 564.8,433.1 565.3,433.2 565.8,433.3 566.3,433.4 566.8,433.4 567.3,433.5 567.8,433.6 568.3,433.7 568.8,433.8 569.3,433.8 569.8,433.9 570.3,433.9 570.8,434.0 571.3,434.1 571.8,434.1 572.3,434.1 572.8,434.2 573.3,434.2 573.8,434.3 574.3,434.3 574.8,434.3 575.3,434.3 575.8,434.4 576.3,434.4 576.8,434.4 577.3,434.4 577.8,434.5 578.3,434.5 578.8,434.5 579.3,434.5 579.8,434.5 580.3,434.5 580.8,434.5 581.3,434.5 581.8,434.5 582.3,434.5 582.8,434.6 583.3,434.6 583.8,434.6 584.3,434.6 584.8,434.6 585.3,434.6 585.8,434.6 586.3,434.6 586.8,434.6 587.3,434.6 587.8,434.6 588.3,434.6 588.8,434.6 589.3,434.6 589.8,434.6 590.3,434.6 590.8,434.6 591.3,434.6 591.8,434.6 592.3,434.6 592.8,434.6 593.3,434.6 593.8,434.6 594.3,434.6 594.8,434.6 595.3,434.6 595.8,434.6 596.3,434.6 596.8,434.6 597.3,434.6 597.8,434.6 598.3,434.6 598.8,434.6 599.3,434.6 599.8,434.7 600.3,434.7 600.8,434.7 601.3,434.7 601.8,434.7 602.3,434.7 602.8,434.7 603.3,434.7 603.8,434.7 604.3,434.7 604.8,434.7 605.3,434.7 605.8,434.7 606.3,434.7 606.8,434.7 607.3,434.7 607.8,434.7 608.3,434.7 608.8,434.7 609.3,434.7 609.8,434.7 610.3,434.7 610.8,434.7 611.3,434.7 611.8,434.7 612.3,434.7 612.8,434.7 613.3,434.7 613.8,434.7 614.3,434.7 614.8,434.7 615.3,434.7 615.8,434.7 616.3,434.7 616.8,434.7 617.3,434.7 617.8,434.7 618.3,434.7 618.8,434.7 619.3,434.7 619.8,434.7 620.3,434.7 620.8,434.7 621.3,434.7 621.8,434.7 622.3,434.7 622.8,434.7 623.3,434.7 623.8,434.7 624.3,434.7 624.8,434.7 625.3,434.7 625.8,434.7 626.3,434.7 626.8,434.7 627.3,434.7 627.8,434.7 628.3,434.7 628.8,434.7 629.3,434.7 629.8,434.7 630.3,434.7 630.8,434.7 631.3,434.7 631.8,434.7 632.3,434.7 632.8,434.7 633.3,434.7 633.8,434.7 634.3,434.7 634.8,434.7 635.3,434.7 635.8,434.7 636.3,434.7 636.8,434.7 637.3,434.7 637.8,434.7 638.3,434.7 638.8,434.7 639.3,434.7 639.8,434.7 640.3,434.7 640.8,434.7 641.3,434.7 641.8,434.7 642.3,434.7 642.8,434.7 643.3,434.7 643.8,434.7 644.3,434.7 644.8,434.7 645.3,434.7 645.8,434.7 646.3,434.7 646.8,434.7 647.3,434.7 647.8,434.7 648.3,434.7 648.8,434.7 649.3,434.7 649.8,434.7 650.3,434.7 650.8,434.7 651.3,434.7 651.8,434.7 652.3,434.7 652.8,434.7 653.3,434.7 653.8,434.7 654.3,434.7 654.8,434.7 655.3,434.7 655.8,434.7 656.3,434.7 656.8,434.7 657.3,434.7 657.8,434.7 658.3,434.7 658.8,434.7 659.3,434.7 659.8,434.7 660.3,434.7 660.8,434.7 661.3,434.7 661.8,434.7 662.3,434.7 662.8,434.7 663.3,434.7 663.8,434.7 664.3,434.7 664.8,434.7 665.3,434.7 665.8,434.7 666.3,434.7 666.8,434.7 667.3,434.7 667.8,434.7 668.3,434.7 668.8,434.7 669.3,434.7 669.8,434.7 670.3,434.7 670.8,434.7 671.3,434.7 671.8,434.7 672.3,434.7 672.8,434.7 673.3,434.7 673.8,434.7 674.3,434.7" fill="none" stroke="#1f1a66" stroke-width="2.0" stroke-linejoin="round"/>
<polyline points="436.3,432.7 436.8,432.7 437.3,432.7 437.8,432.7 438.3,432.7 438.8,432.7 439.3,432.7 439.8,432.7 440.3,432.7 440.8,432.7 441.3,432.7 441.8,432.7 442.3,432.7 442.8,432.7 443.3,432.7 443.8,432.7 444.3,432.7 444.8,432.7 445.3,432.7 445.8,432.7 446.3,432.7 446.8,432.7 447.3,432.7 447.8,432.7 448.3,432.7 448.8,432.7 449.3,432.7 449.8,432.7 450.3,432.7 450.8,432.7 451.3,432.7 451.8,432.7 452.3,432.7 452.8,432.7 453.3,432.7 453.8,432.7 454.3,432.7 454.8,432.7 455.3,432.7 455.8,432.7 456.3,432.7 456.8,432.7 457.3,432.7 457.8,432.7 458.3,432.7 458.8,432.7 459.3,432.7 459.8,432.7 460.3,432.7 460.8,432.7 461.3,432.7 461.8,432.7 462.3,432.7 462.8,432.7 463.3,432.7 463.8,432.7 464.3,432.7 464.8,432.7 465.3,432.7 465.8,432.7 466.3,432.7 466.8,432.7 467.3,432.7 467.8,432.7 468.3,432.7 468.8,432.7 469.3,432.7 469.8,432.7 470.3,432.7 470.8,432.7 471.3,432.7 471.8,432.7 472.3,432.7 472.8,432.7 473.3,432.7 473.8,432.7 474.3,432.7 474.8,432.7 475.3,432.7 475.8,432.7 476.3,432.7 476.8,432.7 477.3,432.7 477.8,432.7 478.3,432.7 478.8,432.7 479.3,432.7 479.8,432.7 480.3,432.7 480.8,432.7 481.3,432.7 481.8,432.7 482.3,432.7 482.8,432.7 483.3,432.7 483.8,432.7 484.3,432.7 484.8,432.7 485.3,432.7 485.8,432.7 486.3,432.7 486.8,432.7 487.3,432.7 487.8,432.7 488.3,432.7 488.8,432.7 489.3,432.7 489.8,432.7 490.3,432.7 490.8,432.7 491.3,432.7 491.8,432.7 492.3,432.7 492.8,432.7 493.3,432.7 493.8,432.7 494.3,432.7 494.8,432.7 495.3,432.7 495.8,432.7 496.3,432.7 496.8,432.7 497.3,432.7 497.8,432.7 498.3,432.7 498.8,432.7 499.3,432.7 499.8,432.7 500.3,432.7 500.8,432.7 501.3,432.7 501.8,432.7 502.3,432.7 502.8,432.7 503.3,432.7 503.8,432.7 504.3,432.7 504.8,432.7 505.3,432.7 505.8,432.7 506.3,432.7 506.8,432.7 507.3,432.7 507.8,432.7 508.3,432.7 508.8,432.7 509.3,432.7 509.8,432.7 510.3,432.7 510.8,432.7 511.3,432.7 511.8,432.7 512.3,432.7 512.8,432.7 513.3,432.7 513.8,432.7 514.3,432.6 514.8,432.6 515.3,432.6 515.8,432.6 516.3,432.6 516.8,432.6 517.3,432.6 517.8,432.5 518.3,432.5 518.8,432.5 519.3,432.5 519.8,432.4 520.3,432.4 520.8,432.3 521.3,432.3 521.8,432.2 522.3,432.2 522.8,432.1 523.3,432.1 523.8,432.0 524.3,431.9 524.8,431.8 525.3,431.7 525.8,431.6 526.3,431.5 526.8,431.4 527.3,431.2 527.8,431.1 528.3,430.9 528.8,430.8 529.3,430.6 529.8,430.4 530.3,430.3 530.8,430.1 531.3,429.9 531.8,429.7 532.3,429.5 532.8,429.2 533.3,429.0 533.8,428.8 534.3,428.6 534.8,428.3 535.3,428.1 535.8,427.9 536.3,427.7 536.8,427.4 537.3,427.2 537.8,427.0 538.3,426.8 538.8,426.6 539.3,426.4 539.8,426.2 540.3,426.0 540.8,425.8 541.3,425.7 541.8,425.5 542.3,425.4 542.8,425.3 543.3,425.1 543.8,425.0 544.3,425.0 544.8,424.9 545.3,424.8 545.8,424.8 546.3,424.7 546.8,424.7 547.3,424.7 547.8,424.7 548.3,424.7 548.8,424.7 549.3,424.7 549.8,424.8 550.3,424.8 550.8,424.9 551.3,424.9 551.8,425.0 552.3,425.1 552.8,425.2 553.3,425.3 553.8,425.4 554.3,425.6 554.8,425.7 555.3,425.9 555.8,426.1 556.3,426.2 556.8,426.4 557.3,426.6 557.8,426.8 558.3,427.0 558.8,427.2 559.3,427.4 559.8,427.6 560.3,427.9 560.8,428.1 561.3,428.3 561.8,428.5 562.3,428.7 562.8,428.9 563.3,429.1 563.8,429.3 564.3,429.5 564.8,429.7 565.3,429.9 565.8,430.0 566.3,430.2 566.8,430.4 567.3,430.5 567.8,430.7 568.3,430.8 568.8,430.9 569.3,431.0 569.8,431.2 570.3,431.3 570.8,431.4 571.3,431.5 571.8,431.5 572.3,431.6 572.8,431.7 573.3,431.8 573.8,431.8 574.3,431.9 574.8,431.9 575.3,432.0 575.8,432.0 576.3,432.1 576.8,432.1 577.3,432.2 577.8,432.2 578.3,432.2 578.8,432.2 579.3,432.3 579.8,432.3 580.3,432.3 580.8,432.3 581.3,432.3 581.8,432.4 582.3,432.4 582.8,432.4 583.3,432.4 583.8,432.4 584.3,432.4 584.8,432.4 585.3,432.4 585.8,432.4 586.3,432.5 586.8,432.5 587.3,432.5 587.8,432.5 588.3,432.5 588.8,432.5 589.3,432.5 589.8,432.5 590.3,432.5 590.8,432.5 591.3,432.5 591.8,432.5 592.3,432.5 592.8,432.5 593.3,432.5 593.8,432.5 594.3,432.5 594.8,432.6 595.3,432.6 595.8,432.6 596.3,432.6 596.8,432.6 597.3,432.6 597.8,432.6 598.3,432.6 598.8,432.6 599.3,432.6 599.8,432.6 600.3,432.6 600.8,432.6 601.3,432.6 601.8,432.6 602.3,432.6 602.8,432.6 603.3,432.6 603.8,432.6 604.3,432.6 604.8,432.6 605.3,432.6 605.8,432.6 606.3,432.6 606.8,432.6 607.3,432.6 607.8,432.6 608.3,432.6 608.8,432.6 609.3,432.6 609.8,432.6 610.3,432.6 610.8,432.6 611.3,432.6 611.8,432.6 612.3,432.6 612.8,432.6 613.3,432.6 613.8,432.6 614.3,432.7 614.8,432.7 615.3,432.7 615.8,432.7 616.3,432.7 616.8,432.7 617.3,432.7 617.8,432.7 618.3,432.7 618.8,432.7 619.3,432.7 619.8,432.7 620.3,432.7 620.8,432.7 621.3,432.7 621.8,432.7 622.3,432.7 622.8,432.7 623.3,432.7 623.8,432.7 624.3,432.7 624.8,432.7 625.3,432.7 625.8,432.7 626.3,432.7 626.8,432.7 627.3,432.7 627.8,432.7 628.3,432.7 628.8,432.7 629.3,432.7 629.8,432.7 630.3,432.7 630.8,432.7 631.3,432.7 631.8,432.7 632.3,432.7 632.8,432.7 633.3,432.7 633.8,432.7 634.3,432.7 634.8,432.7 635.3,432.7 635.8,432.7 636.3,432.7 636.8,432.7 637.3,432.7 637.8,432.7 638.3,432.7 638.8,432.7 639.3,432.7 639.8,432.7 640.3,432.7 640.8,432.7 641.3,432.7 641.8,432.7 642.3,432.7 642.8,432.7 643.3,432.7 643.8,432.7 644.3,432.7 644.8,432.7 645.3,432.7 645.8,432.7 646.3,432.7 646.8,432.7 647.3,432.7 647.8,432.7 648.3,432.7 648.8,432.7 649.3,432.7 649.8,432.7 650.3,432.7 650.8,432.7 651.3,432.7 651.8,432.7 652.3,432.7 652.8,432.7 653.3,432.7 653.8,432.7 654.3,432.7 654.8,432.7 655.3,432.7 655.8,432.7 656.3,432.7 656.8,432.7 657.3,432.7 657.8,432.7 658.3,432.7 658.8,432.7 659.3,432.7 659.8,432.7 660.3,432.7 660.8,432.7 661.3,432.7 661.8,432.7 662.3,432.7 662.8,432.7 663.3,432.7 663.8,432.7 664.3,432.7 664.8,432.7 665.3,432.7 665.8,432.7 666.3,432.7 666.8,432.7 667.3,432.7 667.8,432.7 668.3,432.7 668.8,432.7 669.3,432.7 669.8,432.7 670.3,432.7 670.8,432.7 671.3,432.7 671.8,432.7 672.3,432.7 672.8,432.7 673.3,432.7 673.8,432.7 674.3,432.7" fill="none" stroke="#f0a040" stroke-width="1.8" stroke-linejoin="round"/>
<polyline points="436.3,432.6 436.8,432.6 437.3,432.6 437.8,432.6 438.3,432.6 438.8,432.6 439.3,432.6 439.8,432.6 440.3,432.6 440.8,432.6 441.3,432.6 441.8,432.6 442.3,432.6 442.8,432.6 443.3,432.6 443.8,432.6 444.3,432.6 444.8,432.6 445.3,432.6 445.8,432.6 446.3,432.6 446.8,432.6 447.3,432.6 447.8,432.6 448.3,432.6 448.8,432.6 449.3,432.6 449.8,432.6 450.3,432.6 450.8,432.6 451.3,432.6 451.8,432.6 452.3,432.6 452.8,432.6 453.3,432.6 453.8,432.6 454.3,432.6 454.8,432.6 455.3,432.6 455.8,432.6 456.3,432.6 456.8,432.6 457.3,432.6 457.8,432.6 458.3,432.6 458.8,432.6 459.3,432.6 459.8,432.6 460.3,432.6 460.8,432.6 461.3,432.6 461.8,432.6 462.3,432.6 462.8,432.6 463.3,432.6 463.8,432.6 464.3,432.6 464.8,432.6 465.3,432.6 465.8,432.6 466.3,432.6 466.8,432.6 467.3,432.6 467.8,432.6 468.3,432.6 468.8,432.6 469.3,432.6 469.8,432.6 470.3,432.6 470.8,432.6 471.3,432.6 471.8,432.6 472.3,432.6 472.8,432.6 473.3,432.6 473.8,432.6 474.3,432.6 474.8,432.6 475.3,432.6 475.8,432.6 476.3,432.6 476.8,432.6 477.3,432.6 477.8,432.6 478.3,432.6 478.8,432.6 479.3,432.6 479.8,432.6 480.3,432.6 480.8,432.6 481.3,432.6 481.8,432.6 482.3,432.6 482.8,432.6 483.3,432.6 483.8,432.6 484.3,432.6 484.8,432.6 485.3,432.6 485.8,432.6 486.3,432.6 486.8,432.6 487.3,432.6 487.8,432.6 488.3,432.6 488.8,432.6 489.3,432.6 489.8,432.6 490.3,432.6 490.8,432.6 491.3,432.6 491.8,432.6 492.3,432.6 492.8,432.6 493.3,432.6 493.8,432.6 494.3,432.6 494.8,432.6 495.3,432.6 495.8,432.6 496.3,432.6 496.8,432.6 497.3,432.6 497.8,432.6 498.3,432.6 498.8,432.6 499.3,432.6 499.8,432.6 500.3,432.6 500.8,432.6 501.3,432.6 501.8,432.6 502.3,432.6 502.8,432.6 503.3,432.6 503.8,432.6 504.3,432.6 504.8,432.6 505.3,432.6 505.8,432.6 506.3,432.6 506.8,432.6 507.3,432.6 507.8,432.6 508.3,432.6 508.8,432.6 509.3,432.6 509.8,432.6 510.3,432.6 510.8,432.5 511.3,432.5 511.8,432.5 512.3,432.5 512.8,432.5 513.3,432.5 513.8,432.5 514.3,432.4 514.8,432.4 515.3,432.4 515.8,432.3 516.3,432.3 516.8,432.3 517.3,432.2 517.8,432.2 518.3,432.1 518.8,432.0 519.3,431.9 519.8,431.9 520.3,431.8 520.8,431.7 521.3,431.5 521.8,431.4 522.3,431.3 522.8,431.1 523.3,431.0 523.8,430.8 524.3,430.6 524.8,430.4 525.3,430.2 525.8,430.0 526.3,429.7 526.8,429.5 527.3,429.2 527.8,428.9 528.3,428.6 528.8,428.3 529.3,428.0 529.8,427.6 530.3,427.3 530.8,426.9 531.3,426.5 531.8,426.2 532.3,425.8 532.8,425.4 533.3,425.0 533.8,424.6 534.3,424.2 534.8,423.8 535.3,423.4 535.8,423.0 536.3,422.6 536.8,422.2 537.3,421.8 537.8,421.5 538.3,421.1 538.8,420.8 539.3,420.4 539.8,420.1 540.3,419.8 540.8,419.6 541.3,419.3 541.8,419.1 542.3,418.8 542.8,418.7 543.3,418.5 543.8,418.3 544.3,418.2 544.8,418.1 545.3,418.0 545.8,418.0 546.3,417.9 546.8,417.9 547.3,417.9 547.8,417.9 548.3,417.9 548.8,418.0 549.3,418.0 549.8,418.1 550.3,418.2 550.8,418.3 551.3,418.5 551.8,418.6 552.3,418.8 552.8,419.0 553.3,419.3 553.8,419.5 554.3,419.8 554.8,420.1 555.3,420.4 555.8,420.7 556.3,421.1 556.8,421.4 557.3,421.8 557.8,422.1 558.3,422.5 558.8,422.9 559.3,423.3 559.8,423.7 560.3,424.1 560.8,424.5 561.3,424.9 561.8,425.2 562.3,425.6 562.8,426.0 563.3,426.3 563.8,426.7 564.3,427.0 564.8,427.4 565.3,427.7 565.8,428.0 566.3,428.3 566.8,428.6 567.3,428.8 567.8,429.1 568.3,429.3 568.8,429.5 569.3,429.7 569.8,429.9 570.3,430.1 570.8,430.3 571.3,430.5 571.8,430.6 572.3,430.8 572.8,430.9 573.3,431.0 573.8,431.1 574.3,431.2 574.8,431.3 575.3,431.4 575.8,431.5 576.3,431.5 576.8,431.6 577.3,431.6 577.8,431.7 578.3,431.7 578.8,431.8 579.3,431.8 579.8,431.9 580.3,431.9 580.8,431.9 581.3,432.0 581.8,432.0 582.3,432.0 582.8,432.0 583.3,432.1 583.8,432.1 584.3,432.1 584.8,432.1 585.3,432.1 585.8,432.2 586.3,432.2 586.8,432.2 587.3,432.2 587.8,432.2 588.3,432.2 588.8,432.2 589.3,432.2 589.8,432.2 590.3,432.3 590.8,432.3 591.3,432.3 591.8,432.3 592.3,432.3 592.8,432.3 593.3,432.3 593.8,432.3 594.3,432.3 594.8,432.3 595.3,432.3 595.8,432.4 596.3,432.4 596.8,432.4 597.3,432.4 597.8,432.4 598.3,432.4 598.8,432.4 599.3,432.4 599.8,432.4 600.3,432.4 600.8,432.4 601.3,432.4 601.8,432.4 602.3,432.4 602.8,432.4 603.3,432.4 603.8,432.4 604.3,432.4 604.8,432.4 605.3,432.5 605.8,432.5 606.3,432.5 606.8,432.5 607.3,432.5 607.8,432.5 608.3,432.5 608.8,432.5 609.3,432.5 609.8,432.5 610.3,432.5 610.8,432.5 611.3,432.5 611.8,432.5 612.3,432.5 612.8,432.5 613.3,432.5 613.8,432.5 614.3,432.5 614.8,432.5 615.3,432.5 615.8,432.5 616.3,432.5 616.8,432.5 617.3,432.5 617.8,432.5 618.3,432.5 618.8,432.5 619.3,432.5 619.8,432.5 620.3,432.5 620.8,432.5 621.3,432.5 621.8,432.5 622.3,432.5 622.8,432.5 623.3,432.5 623.8,432.5 624.3,432.5 624.8,432.6 625.3,432.6 625.8,432.6 626.3,432.6 626.8,432.6 627.3,432.6 627.8,432.6 628.3,432.6 628.8,432.6 629.3,432.6 629.8,432.6 630.3,432.6 630.8,432.6 631.3,432.6 631.8,432.6 632.3,432.6 632.8,432.6 633.3,432.6 633.8,432.6 634.3,432.6 634.8,432.6 635.3,432.6 635.8,432.6 636.3,432.6 636.8,432.6 637.3,432.6 637.8,432.6 638.3,432.6 638.8,432.6 639.3,432.6 639.8,432.6 640.3,432.6 640.8,432.6 641.3,432.6 641.8,432.6 642.3,432.6 642.8,432.6 643.3,432.6 643.8,432.6 644.3,432.6 644.8,432.6 645.3,432.6 645.8,432.6 646.3,432.6 646.8,432.6 647.3,432.6 647.8,432.6 648.3,432.6 648.8,432.6 649.3,432.6 649.8,432.6 650.3,432.6 650.8,432.6 651.3,432.6 651.8,432.6 652.3,432.6 652.8,432.6 653.3,432.6 653.8,432.6 654.3,432.6 654.8,432.6 655.3,432.6 655.8,432.6 656.3,432.6 656.8,432.6 657.3,432.6 657.8,432.6 658.3,432.6 658.8,432.6 659.3,432.6 659.8,432.6 660.3,432.6 660.8,432.6 661.3,432.6 661.8,432.6 662.3,432.6 662.8,432.6 663.3,432.6 663.8,432.6 664.3,432.6 664.8,432.6 665.3,432.6 665.8,432.6 666.3,432.6 666.8,432.6 667.3,432.6 667.8,432.6 668.3,432.6 668.8,432.6 669.3,432.6 669.8,432.6 670.3,432.6 670.8,432.6 671.3,432.6 671.8,432.6 672.3,432.6 672.8,432.6 673.3,432.6 673.8,432.6 674.3,432.6" fill="none" stroke="#35b2e2" stroke-width="1.8" stroke-linejoin="round"/>
<polyline points="436.3,431.9 436.8,431.9 437.3,431.9 437.8,431.9 438.3,431.9 438.8,431.9 439.3,431.9 439.8,431.9 440.3,431.9 440.8,431.9 441.3,431.9 441.8,431.9 442.3,431.9 442.8,431.9 443.3,431.9 443.8,431.9 444.3,431.9 444.8,431.9 445.3,431.9 445.8,431.9 446.3,431.9 446.8,431.9 447.3,431.9 447.8,431.9 448.3,431.9 448.8,431.9 449.3,431.9 449.8,431.9 450.3,431.9 450.8,431.9 451.3,431.9 451.8,431.9 452.3,431.9 452.8,431.9 453.3,431.9 453.8,431.9 454.3,431.9 454.8,431.9 455.3,431.9 455.8,431.9 456.3,431.9 456.8,431.9 457.3,431.9 457.8,431.9 458.3,431.9 458.8,431.9 459.3,431.9 459.8,431.9 460.3,431.9 460.8,431.9 461.3,431.9 461.8,431.9 462.3,431.9 462.8,431.9 463.3,431.9 463.8,431.9 464.3,431.9 464.8,431.9 465.3,431.9 465.8,431.9 466.3,431.9 466.8,431.9 467.3,431.9 467.8,431.9 468.3,431.9 468.8,431.9 469.3,431.9 469.8,431.9 470.3,431.9 470.8,431.9 471.3,431.9 471.8,431.9 472.3,431.9 472.8,431.9 473.3,431.9 473.8,431.9 474.3,431.9 474.8,431.9 475.3,431.9 475.8,431.9 476.3,431.9 476.8,431.9 477.3,431.9 477.8,431.9 478.3,431.9 478.8,431.9 479.3,431.9 479.8,431.9 480.3,431.9 480.8,431.9 481.3,431.9 481.8,431.9 482.3,431.9 482.8,431.9 483.3,431.9 483.8,431.9 484.3,431.9 484.8,431.9 485.3,431.9 485.8,431.9 486.3,431.9 486.8,431.9 487.3,431.9 487.8,431.9 488.3,431.9 488.8,431.9 489.3,431.9 489.8,431.9 490.3,431.9 490.8,431.9 491.3,431.9 491.8,431.9 492.3,431.9 492.8,431.9 493.3,431.9 493.8,431.9 494.3,431.9 494.8,431.9 495.3,431.9 495.8,431.9 496.3,431.9 496.8,431.9 497.3,431.9 497.8,431.9 498.3,431.9 498.8,431.9 499.3,431.9 499.8,431.9 500.3,431.9 500.8,431.9 501.3,431.9 501.8,431.9 502.3,431.9 502.8,431.9 503.3,431.9 503.8,431.9 504.3,431.9 504.8,431.9 505.3,431.9 505.8,431.9 506.3,431.9 506.8,431.9 507.3,431.9 507.8,431.9 508.3,431.9 508.8,431.9 509.3,431.9 509.8,431.9 510.3,431.9 510.8,431.9 511.3,431.9 511.8,431.9 512.3,431.9 512.8,431.9 513.3,431.9 513.8,431.9 514.3,431.8 514.8,431.8 515.3,431.8 515.8,431.8 516.3,431.8 516.8,431.7 517.3,431.7 517.8,431.7 518.3,431.6 518.8,431.5 519.3,431.5 519.8,431.4 520.3,431.3 520.8,431.2 521.3,431.1 521.8,430.9 522.3,430.7 522.8,430.5 523.3,430.3 523.8,430.1 524.3,429.8 524.8,429.5 525.3,429.1 525.8,428.8 526.3,428.3 526.8,427.9 527.3,427.4 527.8,426.8 528.3,426.2 528.8,425.6 529.3,424.9 529.8,424.2 530.3,423.4 530.8,422.5 531.3,421.7 531.8,420.8 532.3,419.8 532.8,418.8 533.3,417.8 533.8,416.7 534.3,415.7 534.8,414.6 535.3,413.5 535.8,412.4 536.3,411.3 536.8,410.2 537.3,409.1 537.8,408.0 538.3,407.0 538.8,406.0 539.3,405.0 539.8,404.1 540.3,403.2 540.8,402.4 541.3,401.6 541.8,400.9 542.3,400.3 542.8,399.8 543.3,399.3 543.8,398.9 544.3,398.5 544.8,398.3 545.3,398.1 545.8,397.9 546.3,397.8 546.8,397.8 547.3,397.8 547.8,397.9 548.3,398.0 548.8,398.1 549.3,398.3 549.8,398.6 550.3,399.0 550.8,399.5 551.3,400.0 551.8,400.6 552.3,401.3 552.8,402.0 553.3,402.8 553.8,403.7 554.3,404.6 554.8,405.6 555.3,406.6 555.8,407.6 556.3,408.7 556.8,409.7 557.3,410.8 557.8,411.9 558.3,412.9 558.8,414.0 559.3,415.0 559.8,416.0 560.3,417.0 560.8,418.0 561.3,418.9 561.8,419.8 562.3,420.6 562.8,421.4 563.3,422.2 563.8,422.9 564.3,423.6 564.8,424.2 565.3,424.8 565.8,425.3 566.3,425.9 566.8,426.3 567.3,426.8 567.8,427.2 568.3,427.5 568.8,427.9 569.3,428.2 569.8,428.5 570.3,428.8 570.8,429.0 571.3,429.2 571.8,429.4 572.3,429.6 572.8,429.8 573.3,429.9 573.8,430.1 574.3,430.2 574.8,430.3 575.3,430.4 575.8,430.5 576.3,430.6 576.8,430.7 577.3,430.8 577.8,430.8 578.3,430.9 578.8,430.9 579.3,431.0 579.8,431.1 580.3,431.1 580.8,431.1 581.3,431.2 581.8,431.2 582.3,431.3 582.8,431.3 583.3,431.3 583.8,431.4 584.3,431.4 584.8,431.4 585.3,431.4 585.8,431.5 586.3,431.5 586.8,431.5 587.3,431.5 587.8,431.5 588.3,431.6 588.8,431.6 589.3,431.6 589.8,431.6 590.3,431.6 590.8,431.6 591.3,431.7 591.8,431.7 592.3,431.7 592.8,431.7 593.3,431.7 593.8,431.7 594.3,431.7 594.8,431.7 595.3,431.7 595.8,431.7 596.3,431.8 596.8,431.8 597.3,431.8 597.8,431.8 598.3,431.8 598.8,431.8 599.3,431.8 599.8,431.8 600.3,431.8 600.8,431.8 601.3,431.8 601.8,431.8 602.3,431.8 602.8,431.8 603.3,431.8 603.8,431.8 604.3,431.8 604.8,431.8 605.3,431.8 605.8,431.8 606.3,431.8 606.8,431.8 607.3,431.9 607.8,431.9 608.3,431.9 608.8,431.9 609.3,431.9 609.8,431.9 610.3,431.9 610.8,431.9 611.3,431.9 611.8,431.9 612.3,431.9 612.8,431.9 613.3,431.9 613.8,431.9 614.3,431.9 614.8,431.9 615.3,431.9 615.8,431.9 616.3,431.9 616.8,431.9 617.3,431.9 617.8,431.9 618.3,431.9 618.8,431.9 619.3,431.9 619.8,431.9 620.3,431.9 620.8,431.9 621.3,431.9 621.8,431.9 622.3,431.9 622.8,431.9 623.3,431.9 623.8,431.9 624.3,431.9 624.8,431.9 625.3,431.9 625.8,431.9 626.3,431.9 626.8,431.9 627.3,431.9 627.8,431.9 628.3,431.9 628.8,431.9 629.3,431.9 629.8,431.9 630.3,431.9 630.8,431.9 631.3,431.9 631.8,431.9 632.3,431.9 632.8,431.9 633.3,431.9 633.8,431.9 634.3,431.9 634.8,431.9 635.3,431.9 635.8,431.9 636.3,431.9 636.8,431.9 637.3,431.9 637.8,431.9 638.3,431.9 638.8,431.9 639.3,431.9 639.8,431.9 640.3,431.9 640.8,431.9 641.3,431.9 641.8,431.9 642.3,431.9 642.8,431.9 643.3,431.9 643.8,431.9 644.3,431.9 644.8,431.9 645.3,431.9 645.8,431.9 646.3,431.9 646.8,431.9 647.3,431.9 647.8,431.9 648.3,431.9 648.8,431.9 649.3,431.9 649.8,431.9 650.3,431.9 650.8,431.9 651.3,431.9 651.8,431.9 652.3,431.9 652.8,431.9 653.3,431.9 653.8,431.9 654.3,431.9 654.8,431.9 655.3,431.9 655.8,431.9 656.3,431.9 656.8,431.9 657.3,431.9 657.8,431.9 658.3,431.9 658.8,431.9 659.3,431.9 659.8,431.9 660.3,431.9 660.8,431.9 661.3,431.9 661.8,431.9 662.3,431.9 662.8,431.9 663.3,431.9 663.8,431.9 664.3,431.9 664.8,431.9 665.3,431.9 665.8,431.9 666.3,431.9 666.8,431.9 667.3,431.9 667.8,431.9 668.3,431.9 668.8,431.9 669.3,431.9 669.8,431.9 670.3,431.9 670.8,431.9 671.3,431.9 671.8,431.9 672.3,431.9 672.8,431.9 673.3,431.9 673.8,431.9 674.3,431.9" fill="none" stroke="#1c5a34" stroke-width="1.8" stroke-linejoin="round"/>
<polyline points="436.3,431.3 436.8,431.3 437.3,431.3 437.8,431.3 438.3,431.3 438.8,431.3 439.3,431.3 439.8,431.3 440.3,431.3 440.8,431.3 441.3,431.3 441.8,431.3 442.3,431.3 442.8,431.3 443.3,431.3 443.8,431.3 444.3,431.3 444.8,431.3 445.3,431.3 445.8,431.3 446.3,431.3 446.8,431.3 447.3,431.3 447.8,431.3 448.3,431.3 448.8,431.3 449.3,431.3 449.8,431.3 450.3,431.3 450.8,431.3 451.3,431.3 451.8,431.3 452.3,431.3 452.8,431.3 453.3,431.3 453.8,431.3 454.3,431.3 454.8,431.3 455.3,431.3 455.8,431.3 456.3,431.3 456.8,431.3 457.3,431.3 457.8,431.3 458.3,431.3 458.8,431.3 459.3,431.3 459.8,431.3 460.3,431.3 460.8,431.3 461.3,431.3 461.8,431.3 462.3,431.3 462.8,431.3 463.3,431.3 463.8,431.3 464.3,431.3 464.8,431.3 465.3,431.3 465.8,431.3 466.3,431.3 466.8,431.3 467.3,431.3 467.8,431.3 468.3,431.3 468.8,431.3 469.3,431.3 469.8,431.3 470.3,431.3 470.8,431.3 471.3,431.3 471.8,431.3 472.3,431.3 472.8,431.3 473.3,431.3 473.8,431.3 474.3,431.3 474.8,431.3 475.3,431.3 475.8,431.3 476.3,431.3 476.8,431.3 477.3,431.3 477.8,431.3 478.3,431.3 478.8,431.3 479.3,431.3 479.8,431.3 480.3,431.3 480.8,431.3 481.3,431.3 481.8,431.3 482.3,431.3 482.8,431.3 483.3,431.3 483.8,431.3 484.3,431.3 484.8,431.3 485.3,431.3 485.8,431.3 486.3,431.3 486.8,431.3 487.3,431.3 487.8,431.3 488.3,431.3 488.8,431.3 489.3,431.3 489.8,431.3 490.3,431.3 490.8,431.3 491.3,431.3 491.8,431.3 492.3,431.3 492.8,431.3 493.3,431.3 493.8,431.3 494.3,431.3 494.8,431.3 495.3,431.3 495.8,431.3 496.3,431.3 496.8,431.3 497.3,431.3 497.8,431.3 498.3,431.3 498.8,431.3 499.3,431.3 499.8,431.3 500.3,431.3 500.8,431.3 501.3,431.3 501.8,431.3 502.3,431.3 502.8,431.3 503.3,431.3 503.8,431.3 504.3,431.3 504.8,431.3 505.3,431.3 505.8,431.3 506.3,431.3 506.8,431.3 507.3,431.3 507.8,431.3 508.3,431.3 508.8,431.3 509.3,431.3 509.8,431.3 510.3,431.3 510.8,431.3 511.3,431.3 511.8,431.3 512.3,431.3 512.8,431.3 513.3,431.3 513.8,431.3 514.3,431.3 514.8,431.3 515.3,431.3 515.8,431.2 516.3,431.2 516.8,431.2 517.3,431.2 517.8,431.1 518.3,431.1 518.8,431.0 519.3,430.9 519.8,430.8 520.3,430.7 520.8,430.5 521.3,430.3 521.8,430.0 522.3,429.7 522.8,429.4 523.3,428.9 523.8,428.4 524.3,427.8 524.8,427.1 525.3,426.2 525.8,425.2 526.3,424.1 526.8,422.8 527.3,421.3 527.8,419.6 528.3,417.7 528.8,415.6 529.3,413.3 529.8,410.7 530.3,407.9 530.8,404.8 531.3,401.4 531.8,397.8 532.3,394.0 532.8,389.9 533.3,385.5 533.8,381.0 534.3,376.3 534.8,371.4 535.3,366.4 535.8,361.3 536.3,356.1 536.8,350.9 537.3,345.6 537.8,340.5 538.3,335.4 538.8,330.4 539.3,325.6 539.8,321.0 540.3,316.7 540.8,312.6 541.3,308.8 541.8,305.4 542.3,302.2 542.8,299.5 543.3,297.1 543.8,295.0 544.3,293.4 544.8,292.1 545.3,291.1 545.8,290.4 546.3,290.0 546.8,289.9 547.3,290.0 547.8,290.5 548.3,291.2 548.8,292.1 549.3,293.1 549.8,294.3 550.3,295.7 550.8,297.2 551.3,298.8 551.8,300.6 552.3,302.5 552.8,304.4 553.3,306.5 553.8,308.7 554.3,310.9 554.8,313.2 555.3,315.6 555.8,318.0 556.3,320.5 556.8,323.0 557.3,325.5 557.8,328.0 558.3,330.6 558.8,333.2 559.3,335.7 559.8,338.3 560.3,340.8 560.8,343.4 561.3,345.9 561.8,348.4 562.3,350.9 562.8,353.3 563.3,355.7 563.8,358.1 564.3,360.4 564.8,362.7 565.3,365.0 565.8,367.2 566.3,369.4 566.8,371.5 567.3,373.5 567.8,375.6 568.3,377.5 568.8,379.5 569.3,381.3 569.8,383.2 570.3,384.9 570.8,386.7 571.3,388.3 571.8,390.0 572.3,391.5 572.8,393.1 573.3,394.5 573.8,396.0 574.3,397.4 574.8,398.7 575.3,400.0 575.8,401.3 576.3,402.5 576.8,403.6 577.3,404.8 577.8,405.9 578.3,406.9 578.8,407.9 579.3,408.9 579.8,409.8 580.3,410.7 580.8,411.6 581.3,412.4 581.8,413.2 582.3,414.0 582.8,414.7 583.3,415.4 583.8,416.1 584.3,416.8 584.8,417.4 585.3,418.0 585.8,418.6 586.3,419.1 586.8,419.7 587.3,420.2 587.8,420.7 588.3,421.1 588.8,421.6 589.3,422.0 589.8,422.4 590.3,422.8 590.8,423.2 591.3,423.5 591.8,423.9 592.3,424.2 592.8,424.5 593.3,424.8 593.8,425.1 594.3,425.4 594.8,425.7 595.3,425.9 595.8,426.1 596.3,426.4 596.8,426.6 597.3,426.8 597.8,427.0 598.3,427.2 598.8,427.4 599.3,427.5 599.8,427.7 600.3,427.9 600.8,428.0 601.3,428.2 601.8,428.3 602.3,428.4 602.8,428.6 603.3,428.7 603.8,428.8 604.3,428.9 604.8,429.0 605.3,429.1 605.8,429.2 606.3,429.3 606.8,429.4 607.3,429.5 607.8,429.5 608.3,429.6 608.8,429.7 609.3,429.8 609.8,429.8 610.3,429.9 610.8,430.0 611.3,430.0 611.8,430.1 612.3,430.1 612.8,430.2 613.3,430.2 613.8,430.3 614.3,430.3 614.8,430.3 615.3,430.4 615.8,430.4 616.3,430.5 616.8,430.5 617.3,430.5 617.8,430.6 618.3,430.6 618.8,430.6 619.3,430.6 619.8,430.7 620.3,430.7 620.8,430.7 621.3,430.7 621.8,430.8 622.3,430.8 622.8,430.8 623.3,430.8 623.8,430.8 624.3,430.9 624.8,430.9 625.3,430.9 625.8,430.9 626.3,430.9 626.8,430.9 627.3,431.0 627.8,431.0 628.3,431.0 628.8,431.0 629.3,431.0 629.8,431.0 630.3,431.0 630.8,431.0 631.3,431.1 631.8,431.1 632.3,431.1 632.8,431.1 633.3,431.1 633.8,431.1 634.3,431.1 634.8,431.1 635.3,431.1 635.8,431.1 636.3,431.1 636.8,431.1 637.3,431.1 637.8,431.2 638.3,431.2 638.8,431.2 639.3,431.2 639.8,431.2 640.3,431.2 640.8,431.2 641.3,431.2 641.8,431.2 642.3,431.2 642.8,431.2 643.3,431.2 643.8,431.2 644.3,431.2 644.8,431.2 645.3,431.2 645.8,431.2 646.3,431.2 646.8,431.2 647.3,431.2 647.8,431.2 648.3,431.2 648.8,431.2 649.3,431.2 649.8,431.2 650.3,431.2 650.8,431.2 651.3,431.2 651.8,431.2 652.3,431.2 652.8,431.3 653.3,431.3 653.8,431.3 654.3,431.3 654.8,431.3 655.3,431.3 655.8,431.3 656.3,431.3 656.8,431.3 657.3,431.3 657.8,431.3 658.3,431.3 658.8,431.3 659.3,431.3 659.8,431.3 660.3,431.3 660.8,431.3 661.3,431.3 661.8,431.3 662.3,431.3 662.8,431.3 663.3,431.3 663.8,431.3 664.3,431.3 664.8,431.3 665.3,431.3 665.8,431.3 666.3,431.3 666.8,431.3 667.3,431.3 667.8,431.3 668.3,431.3 668.8,431.3 669.3,431.3 669.8,431.3 670.3,431.3 670.8,431.3 671.3,431.3 671.8,431.3 672.3,431.3 672.8,431.3 673.3,431.3 673.8,431.3 674.3,431.3" fill="none" stroke="#2aaa62" stroke-width="1.8" stroke-linejoin="round"/>
<polyline points="436.3,379.2 436.8,379.2 437.3,379.2 437.8,379.2 438.3,379.2 438.8,379.2 439.3,379.2 439.8,379.2 440.3,379.2 440.8,379.2 441.3,379.2 441.8,379.2 442.3,379.2 442.8,379.2 443.3,379.2 443.8,379.2 444.3,379.2 444.8,379.2 445.3,379.2 445.8,379.2 446.3,379.2 446.8,379.2 447.3,379.2 447.8,379.2 448.3,379.2 448.8,379.2 449.3,379.2 449.8,379.2 450.3,379.2 450.8,379.2 451.3,379.2 451.8,379.2 452.3,379.2 452.8,379.2 453.3,379.2 453.8,379.2 454.3,379.2 454.8,379.2 455.3,379.2 455.8,379.2 456.3,379.2 456.8,379.2 457.3,379.2 457.8,379.2 458.3,379.2 458.8,379.2 459.3,379.2 459.8,379.2 460.3,379.2 460.8,379.2 461.3,379.2 461.8,379.2 462.3,379.2 462.8,379.2 463.3,379.2 463.8,379.2 464.3,379.2 464.8,379.2 465.3,379.2 465.8,379.2 466.3,379.2 466.8,379.2 467.3,379.2 467.8,379.2 468.3,379.2 468.8,379.2 469.3,379.2 469.8,379.2 470.3,379.2 470.8,379.2 471.3,379.2 471.8,379.2 472.3,379.2 472.8,379.2 473.3,379.2 473.8,379.2 474.3,379.2 474.8,379.2 475.3,379.2 475.8,379.2 476.3,379.2 476.8,379.2 477.3,379.2 477.8,379.2 478.3,379.2 478.8,379.2 479.3,379.2 479.8,379.2 480.3,379.2 480.8,379.2 481.3,379.2 481.8,379.2 482.3,379.2 482.8,379.2 483.3,379.2 483.8,379.2 484.3,379.2 484.8,379.2 485.3,379.2 485.8,379.2 486.3,379.2 486.8,379.2 487.3,379.2 487.8,379.2 488.3,379.2 488.8,379.2 489.3,379.2 489.8,379.2 490.3,379.2 490.8,379.2 491.3,379.2 491.8,379.2 492.3,379.2 492.8,379.2 493.3,379.2 493.8,379.2 494.3,379.2 494.8,379.2 495.3,379.2 495.8,379.2 496.3,379.2 496.8,379.2 497.3,379.2 497.8,379.2 498.3,379.2 498.8,379.2 499.3,379.2 499.8,379.2 500.3,379.2 500.8,379.2 501.3,379.2 501.8,379.2 502.3,379.2 502.8,379.2 503.3,379.2 503.8,379.2 504.3,379.2 504.8,379.2 505.3,379.2 505.8,379.2 506.3,379.2 506.8,379.2 507.3,379.2 507.8,379.2 508.3,379.2 508.8,379.2 509.3,379.2 509.8,379.2 510.3,379.2 510.8,379.2 511.3,379.2 511.8,379.2 512.3,379.2 512.8,379.2 513.3,379.2 513.8,379.2 514.3,379.2 514.8,379.2 515.3,379.2 515.8,379.2 516.3,379.2 516.8,379.2 517.3,379.1 517.8,379.1 518.3,379.1 518.8,379.1 519.3,379.1 519.8,379.0 520.3,379.0 520.8,379.0 521.3,378.9 521.8,378.9 522.3,378.8 522.8,378.8 523.3,378.7 523.8,378.6 524.3,378.5 524.8,378.4 525.3,378.3 525.8,378.2 526.3,378.1 526.8,378.0 527.3,377.8 527.8,377.7 528.3,377.5 528.8,377.3 529.3,377.2 529.8,377.0 530.3,376.8 530.8,376.6 531.3,376.4 531.8,376.2 532.3,376.0 532.8,375.8 533.3,375.5 533.8,375.3 534.3,375.1 534.8,374.9 535.3,374.7 535.8,374.5 536.3,374.4 536.8,374.2 537.3,374.0 537.8,373.9 538.3,373.7 538.8,373.6 539.3,373.5 539.8,373.4 540.3,373.3 540.8,373.2 541.3,373.1 541.8,373.1 542.3,373.0 542.8,373.0 543.3,372.9 543.8,372.9 544.3,372.9 544.8,372.9 545.3,372.9 545.8,372.9 546.3,372.9 546.8,372.9 547.3,372.9 547.8,372.9 548.3,372.9 548.8,373.0 549.3,373.0 549.8,373.0 550.3,373.0 550.8,373.1 551.3,373.1 551.8,373.2 552.3,373.2 552.8,373.3 553.3,373.3 553.8,373.4 554.3,373.4 554.8,373.5 555.3,373.6 555.8,373.7 556.3,373.7 556.8,373.8 557.3,373.9 557.8,374.0 558.3,374.1 558.8,374.2 559.3,374.3 559.8,374.4 560.3,374.5 560.8,374.6 561.3,374.7 561.8,374.8 562.3,374.9 562.8,375.0 563.3,375.1 563.8,375.2 564.3,375.3 564.8,375.4 565.3,375.5 565.8,375.6 566.3,375.7 566.8,375.8 567.3,375.9 567.8,376.0 568.3,376.1 568.8,376.1 569.3,376.2 569.8,376.3 570.3,376.4 570.8,376.5 571.3,376.6 571.8,376.6 572.3,376.7 572.8,376.8 573.3,376.9 573.8,376.9 574.3,377.0 574.8,377.0 575.3,377.1 575.8,377.2 576.3,377.2 576.8,377.3 577.3,377.3 577.8,377.4 578.3,377.4 578.8,377.4 579.3,377.5 579.8,377.5 580.3,377.5 580.8,377.6 581.3,377.6 581.8,377.6 582.3,377.7 582.8,377.7 583.3,377.7 583.8,377.7 584.3,377.8 584.8,377.8 585.3,377.8 585.8,377.8 586.3,377.8 586.8,377.9 587.3,377.9 587.8,377.9 588.3,377.9 588.8,377.9 589.3,377.9 589.8,377.9 590.3,377.9 590.8,378.0 591.3,378.0 591.8,378.0 592.3,378.0 592.8,378.0 593.3,378.0 593.8,378.0 594.3,378.0 594.8,378.0 595.3,378.0 595.8,378.0 596.3,378.1 596.8,378.1 597.3,378.1 597.8,378.1 598.3,378.1 598.8,378.1 599.3,378.1 599.8,378.1 600.3,378.1 600.8,378.1 601.3,378.1 601.8,378.1 602.3,378.1 602.8,378.1 603.3,378.1 603.8,378.2 604.3,378.2 604.8,378.2 605.3,378.2 605.8,378.2 606.3,378.2 606.8,378.2 607.3,378.2 607.8,378.2 608.3,378.2 608.8,378.2 609.3,378.2 609.8,378.2 610.3,378.2 610.8,378.2 611.3,378.2 611.8,378.2 612.3,378.2 612.8,378.3 613.3,378.3 613.8,378.3 614.3,378.3 614.8,378.3 615.3,378.3 615.8,378.3 616.3,378.3 616.8,378.3 617.3,378.3 617.8,378.3 618.3,378.3 618.8,378.3 619.3,378.3 619.8,378.3 620.3,378.3 620.8,378.3 621.3,378.3 621.8,378.3 622.3,378.4 622.8,378.4 623.3,378.4 623.8,378.4 624.3,378.4 624.8,378.4 625.3,378.4 625.8,378.4 626.3,378.4 626.8,378.4 627.3,378.4 627.8,378.4 628.3,378.4 628.8,378.4 629.3,378.4 629.8,378.4 630.3,378.4 630.8,378.4 631.3,378.4 631.8,378.4 632.3,378.4 632.8,378.4 633.3,378.4 633.8,378.5 634.3,378.5 634.8,378.5 635.3,378.5 635.8,378.5 636.3,378.5 636.8,378.5 637.3,378.5 637.8,378.5 638.3,378.5 638.8,378.5 639.3,378.5 639.8,378.5 640.3,378.5 640.8,378.5 641.3,378.5 641.8,378.5 642.3,378.5 642.8,378.5 643.3,378.5 643.8,378.5 644.3,378.5 644.8,378.5 645.3,378.5 645.8,378.5 646.3,378.6 646.8,378.6 647.3,378.6 647.8,378.6 648.3,378.6 648.8,378.6 649.3,378.6 649.8,378.6 650.3,378.6 650.8,378.6 651.3,378.6 651.8,378.6 652.3,378.6 652.8,378.6 653.3,378.6 653.8,378.6 654.3,378.6 654.8,378.6 655.3,378.6 655.8,378.6 656.3,378.6 656.8,378.6 657.3,378.6 657.8,378.6 658.3,378.6 658.8,378.6 659.3,378.6 659.8,378.6 660.3,378.6 660.8,378.6 661.3,378.7 661.8,378.7 662.3,378.7 662.8,378.7 663.3,378.7 663.8,378.7 664.3,378.7 664.8,378.7 665.3,378.7 665.8,378.7 666.3,378.7 666.8,378.7 667.3,378.7 667.8,378.7 668.3,378.7 668.8,378.7 669.3,378.7 669.8,378.7 670.3,378.7 670.8,378.7 671.3,378.7 671.8,378.7 672.3,378.7 672.8,378.7 673.3,378.7 673.8,378.7 674.3,378.7" fill="none" stroke="#1f1a66" stroke-width="1.9" stroke-linejoin="round" stroke-dasharray="7.4 2.1"/>
<polyline points="436.3,377.7 436.8,377.7 437.3,377.7 437.8,377.7 438.3,377.7 438.8,377.7 439.3,377.7 439.8,377.7 440.3,377.7 440.8,377.7 441.3,377.7 441.8,377.7 442.3,377.7 442.8,377.7 443.3,377.7 443.8,377.7 444.3,377.7 444.8,377.7 445.3,377.7 445.8,377.7 446.3,377.7 446.8,377.7 447.3,377.7 447.8,377.7 448.3,377.7 448.8,377.7 449.3,377.7 449.8,377.7 450.3,377.7 450.8,377.7 451.3,377.7 451.8,377.7 452.3,377.7 452.8,377.7 453.3,377.7 453.8,377.7 454.3,377.7 454.8,377.7 455.3,377.7 455.8,377.7 456.3,377.7 456.8,377.7 457.3,377.7 457.8,377.7 458.3,377.7 458.8,377.7 459.3,377.7 459.8,377.7 460.3,377.7 460.8,377.7 461.3,377.7 461.8,377.7 462.3,377.7 462.8,377.7 463.3,377.7 463.8,377.7 464.3,377.7 464.8,377.7 465.3,377.7 465.8,377.7 466.3,377.7 466.8,377.7 467.3,377.7 467.8,377.7 468.3,377.7 468.8,377.7 469.3,377.7 469.8,377.7 470.3,377.7 470.8,377.7 471.3,377.7 471.8,377.7 472.3,377.7 472.8,377.7 473.3,377.7 473.8,377.7 474.3,377.7 474.8,377.7 475.3,377.7 475.8,377.7 476.3,377.7 476.8,377.7 477.3,377.7 477.8,377.7 478.3,377.7 478.8,377.7 479.3,377.7 479.8,377.7 480.3,377.7 480.8,377.7 481.3,377.7 481.8,377.7 482.3,377.7 482.8,377.7 483.3,377.7 483.8,377.7 484.3,377.7 484.8,377.7 485.3,377.7 485.8,377.7 486.3,377.7 486.8,377.7 487.3,377.7 487.8,377.7 488.3,377.7 488.8,377.7 489.3,377.7 489.8,377.7 490.3,377.7 490.8,377.7 491.3,377.7 491.8,377.7 492.3,377.7 492.8,377.7 493.3,377.7 493.8,377.7 494.3,377.7 494.8,377.7 495.3,377.7 495.8,377.7 496.3,377.7 496.8,377.7 497.3,377.7 497.8,377.7 498.3,377.7 498.8,377.7 499.3,377.7 499.8,377.7 500.3,377.7 500.8,377.7 501.3,377.7 501.8,377.7 502.3,377.7 502.8,377.7 503.3,377.7 503.8,377.7 504.3,377.7 504.8,377.7 505.3,377.7 505.8,377.7 506.3,377.7 506.8,377.7 507.3,377.6 507.8,377.6 508.3,377.6 508.8,377.6 509.3,377.6 509.8,377.6 510.3,377.6 510.8,377.5 511.3,377.5 511.8,377.5 512.3,377.4 512.8,377.4 513.3,377.3 513.8,377.3 514.3,377.2 514.8,377.2 515.3,377.1 515.8,377.0 516.3,376.9 516.8,376.8 517.3,376.7 517.8,376.6 518.3,376.5 518.8,376.3 519.3,376.2 519.8,376.0 520.3,375.8 520.8,375.7 521.3,375.4 521.8,375.2 522.3,375.0 522.8,374.7 523.3,374.4 523.8,374.1 524.3,373.8 524.8,373.5 525.3,373.2 525.8,372.8 526.3,372.4 526.8,372.0 527.3,371.6 527.8,371.2 528.3,370.8 528.8,370.3 529.3,369.8 529.8,369.4 530.3,368.9 530.8,368.4 531.3,367.9 531.8,367.4 532.3,366.9 532.8,366.4 533.3,365.9 533.8,365.4 534.3,364.9 534.8,364.4 535.3,363.9 535.8,363.5 536.3,363.0 536.8,362.6 537.3,362.2 537.8,361.8 538.3,361.4 538.8,361.1 539.3,360.7 539.8,360.4 540.3,360.2 540.8,359.9 541.3,359.7 541.8,359.5 542.3,359.3 542.8,359.2 543.3,359.1 543.8,359.0 544.3,358.9 544.8,358.9 545.3,358.9 545.8,358.9 546.3,358.9 546.8,358.9 547.3,359.0 547.8,359.0 548.3,359.1 548.8,359.1 549.3,359.2 549.8,359.3 550.3,359.5 550.8,359.6 551.3,359.8 551.8,359.9 552.3,360.2 552.8,360.4 553.3,360.6 553.8,360.9 554.3,361.1 554.8,361.4 555.3,361.7 555.8,362.0 556.3,362.4 556.8,362.7 557.3,363.0 557.8,363.4 558.3,363.7 558.8,364.1 559.3,364.4 559.8,364.8 560.3,365.1 560.8,365.5 561.3,365.8 561.8,366.2 562.3,366.5 562.8,366.8 563.3,367.1 563.8,367.4 564.3,367.7 564.8,368.0 565.3,368.3 565.8,368.6 566.3,368.8 566.8,369.1 567.3,369.3 567.8,369.5 568.3,369.8 568.8,370.0 569.3,370.2 569.8,370.4 570.3,370.6 570.8,370.7 571.3,370.9 571.8,371.1 572.3,371.2 572.8,371.4 573.3,371.5 573.8,371.7 574.3,371.8 574.8,371.9 575.3,372.1 575.8,372.2 576.3,372.3 576.8,372.4 577.3,372.5 577.8,372.6 578.3,372.7 578.8,372.8 579.3,372.9 579.8,373.0 580.3,373.1 580.8,373.2 581.3,373.3 581.8,373.4 582.3,373.5 582.8,373.5 583.3,373.6 583.8,373.7 584.3,373.8 584.8,373.8 585.3,373.9 585.8,374.0 586.3,374.1 586.8,374.1 587.3,374.2 587.8,374.3 588.3,374.3 588.8,374.4 589.3,374.5 589.8,374.5 590.3,374.6 590.8,374.6 591.3,374.7 591.8,374.7 592.3,374.8 592.8,374.9 593.3,374.9 593.8,375.0 594.3,375.0 594.8,375.1 595.3,375.1 595.8,375.2 596.3,375.2 596.8,375.2 597.3,375.3 597.8,375.3 598.3,375.4 598.8,375.4 599.3,375.5 599.8,375.5 600.3,375.6 600.8,375.6 601.3,375.6 601.8,375.7 602.3,375.7 602.8,375.7 603.3,375.8 603.8,375.8 604.3,375.9 604.8,375.9 605.3,375.9 605.8,376.0 606.3,376.0 606.8,376.0 607.3,376.0 607.8,376.1 608.3,376.1 608.8,376.1 609.3,376.2 609.8,376.2 610.3,376.2 610.8,376.3 611.3,376.3 611.8,376.3 612.3,376.3 612.8,376.4 613.3,376.4 613.8,376.4 614.3,376.4 614.8,376.5 615.3,376.5 615.8,376.5 616.3,376.5 616.8,376.5 617.3,376.6 617.8,376.6 618.3,376.6 618.8,376.6 619.3,376.6 619.8,376.7 620.3,376.7 620.8,376.7 621.3,376.7 621.8,376.7 622.3,376.8 622.8,376.8 623.3,376.8 623.8,376.8 624.3,376.8 624.8,376.8 625.3,376.9 625.8,376.9 626.3,376.9 626.8,376.9 627.3,376.9 627.8,376.9 628.3,377.0 628.8,377.0 629.3,377.0 629.8,377.0 630.3,377.0 630.8,377.0 631.3,377.0 631.8,377.0 632.3,377.1 632.8,377.1 633.3,377.1 633.8,377.1 634.3,377.1 634.8,377.1 635.3,377.1 635.8,377.1 636.3,377.1 636.8,377.2 637.3,377.2 637.8,377.2 638.3,377.2 638.8,377.2 639.3,377.2 639.8,377.2 640.3,377.2 640.8,377.2 641.3,377.2 641.8,377.2 642.3,377.3 642.8,377.3 643.3,377.3 643.8,377.3 644.3,377.3 644.8,377.3 645.3,377.3 645.8,377.3 646.3,377.3 646.8,377.3 647.3,377.3 647.8,377.3 648.3,377.3 648.8,377.4 649.3,377.4 649.8,377.4 650.3,377.4 650.8,377.4 651.3,377.4 651.8,377.4 652.3,377.4 652.8,377.4 653.3,377.4 653.8,377.4 654.3,377.4 654.8,377.4 655.3,377.4 655.8,377.4 656.3,377.4 656.8,377.4 657.3,377.4 657.8,377.5 658.3,377.5 658.8,377.5 659.3,377.5 659.8,377.5 660.3,377.5 660.8,377.5 661.3,377.5 661.8,377.5 662.3,377.5 662.8,377.5 663.3,377.5 663.8,377.5 664.3,377.5 664.8,377.5 665.3,377.5 665.8,377.5 666.3,377.5 666.8,377.5 667.3,377.5 667.8,377.5 668.3,377.5 668.8,377.5 669.3,377.5 669.8,377.5 670.3,377.5 670.8,377.5 671.3,377.6 671.8,377.6 672.3,377.6 672.8,377.6 673.3,377.6 673.8,377.6 674.3,377.6" fill="none" stroke="#35b2e2" stroke-width="1.9" stroke-linejoin="round" stroke-dasharray="7.4 2.1"/>
<line x1="436.3" y1="266.6" x2="436.3" y2="439.6" stroke="#111" stroke-width="1.4"/><line x1="435.6" y1="439" x2="674.8" y2="439" stroke="#111" stroke-width="1.4"/><line x1="431" y1="435.3" x2="436.3" y2="435.3" stroke="#111" stroke-width="1.3"/><line x1="431" y1="407.3" x2="436.3" y2="407.3" stroke="#111" stroke-width="1.3"/><line x1="431" y1="379.3" x2="436.3" y2="379.3" stroke="#111" stroke-width="1.3"/><line x1="431" y1="351.3" x2="436.3" y2="351.3" stroke="#111" stroke-width="1.3"/><line x1="431" y1="323.3" x2="436.3" y2="323.3" stroke="#111" stroke-width="1.3"/><line x1="431" y1="295.3" x2="436.3" y2="295.3" stroke="#111" stroke-width="1.3"/><line x1="431" y1="267.3" x2="436.3" y2="267.3" stroke="#111" stroke-width="1.3"/><line x1="436.3" y1="439" x2="436.3" y2="442.8" stroke="#111" stroke-width="1.3"/><line x1="456.1" y1="439" x2="456.1" y2="442.8" stroke="#111" stroke-width="1.3"/><line x1="476.0" y1="439" x2="476.0" y2="442.8" stroke="#111" stroke-width="1.3"/><line x1="495.8" y1="439" x2="495.8" y2="442.8" stroke="#111" stroke-width="1.3"/><line x1="515.7" y1="439" x2="515.7" y2="442.8" stroke="#111" stroke-width="1.3"/><line x1="535.5" y1="439" x2="535.5" y2="442.8" stroke="#111" stroke-width="1.3"/><line x1="555.3" y1="439" x2="555.3" y2="442.8" stroke="#111" stroke-width="1.3"/><line x1="575.2" y1="439" x2="575.2" y2="442.8" stroke="#111" stroke-width="1.3"/><line x1="595.0" y1="439" x2="595.0" y2="442.8" stroke="#111" stroke-width="1.3"/><line x1="614.9" y1="439" x2="614.9" y2="442.8" stroke="#111" stroke-width="1.3"/><line x1="634.7" y1="439" x2="634.7" y2="442.8" stroke="#111" stroke-width="1.3"/><line x1="654.5" y1="439" x2="654.5" y2="442.8" stroke="#111" stroke-width="1.3"/><line x1="674.4" y1="439" x2="674.4" y2="442.8" stroke="#111" stroke-width="1.3"/>
<text x="627.2" y="268.6" font-family="Liberation Sans, sans-serif" font-size="12.3" fill="#111">µg loaded</text>
<line x1="649.3" y1="271.6" x2="672.2" y2="271.6" stroke="#555" stroke-width="1"/>
<line x1="618.2" y1="279.1" x2="648.9" y2="279.1" stroke="#6b1840" stroke-width="1.7"/>
<text x="654.3" y="282.7" font-family="Liberation Sans, sans-serif" font-size="10" fill="#111">2.5</text>
<line x1="618.2" y1="289.2" x2="648.9" y2="289.2" stroke="#1f1a66" stroke-width="1.7"/>
<text x="654.3" y="292.8" font-family="Liberation Sans, sans-serif" font-size="10" fill="#111">5</text>
<line x1="618.2" y1="299.2" x2="648.9" y2="299.2" stroke="#f0a040" stroke-width="1.7"/>
<text x="654.3" y="302.8" font-family="Liberation Sans, sans-serif" font-size="10" fill="#111">10</text>
<line x1="618.2" y1="309.2" x2="648.9" y2="309.2" stroke="#35b2e2" stroke-width="1.7"/>
<text x="654.3" y="312.9" font-family="Liberation Sans, sans-serif" font-size="10" fill="#111">20</text>
<line x1="618.2" y1="319.3" x2="648.9" y2="319.3" stroke="#1c5a34" stroke-width="1.7"/>
<text x="654.3" y="322.9" font-family="Liberation Sans, sans-serif" font-size="10" fill="#111">50</text>
<line x1="618.2" y1="329.4" x2="648.9" y2="329.4" stroke="#2aaa62" stroke-width="1.7"/>
<text x="654.3" y="333.0" font-family="Liberation Sans, sans-serif" font-size="10" fill="#111">250</text>
<line x1="618.2" y1="339.4" x2="645.8" y2="339.4" stroke="#1f1a66" stroke-width="1.7" stroke-dasharray="7.5 2.4"/>
<text x="654.3" y="343.0" font-family="Liberation Sans, sans-serif" font-size="10" fill="#111">5</text>
<line x1="618.2" y1="349.5" x2="645.8" y2="349.5" stroke="#35b2e2" stroke-width="1.7" stroke-dasharray="7.5 2.4"/>
<text x="654.3" y="353.1" font-family="Liberation Sans, sans-serif" font-size="10" fill="#111">20</text>
<text x="591.5" y="372.5" font-family="Liberation Sans, sans-serif" font-size="8.45" fill="#111">Ligand-bound (ECMC)</text>
<text x="641" y="427.9" font-family="Liberation Sans, sans-serif" font-size="10" fill="#111">Apo (E)</text>
</svg>
</body></html>
